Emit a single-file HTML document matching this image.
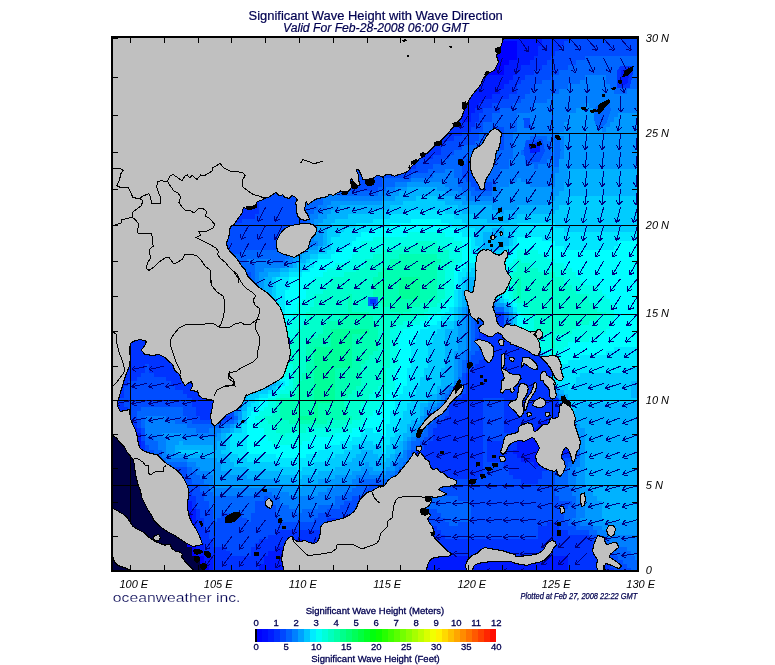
<!DOCTYPE html>
<html><head><meta charset="utf-8"><title>Significant Wave Height with Wave Direction</title>
<style>html,body{margin:0;padding:0;background:#fff}svg{display:block}text{font-family:"Liberation Sans",Arial,sans-serif}</style></head>
<body>
<svg width="775" height="665" viewBox="0 0 775 665">
<rect width="775" height="665" fill="#fff"/>
<rect x="111" y="36" width="528" height="536" fill="#c0c0c0"/>
<g shape-rendering="crispEdges"><path fill="#0033ff" d="M107 36h152v5h-152zM352 36h17v5h-17zM542 36h26v5h-26zM107 41h152v5h-152zM352 41h21v5h-21zM542 41h22v5h-22zM107 46h152v5h-152zM356 46h17v5h-17zM538 46h21v5h-21zM107 51h152v5h-152zM361 51h17v5h-17zM538 51h17v5h-17zM107 56h152v4h-152zM369 56h9v4h-9zM534 56h17v4h-17zM107 60h152v5h-152zM369 60h9v5h-9zM530 60h17v5h-17zM107 65h152v5h-152zM369 65h13v5h-13zM521 65h21v5h-21zM107 70h152v5h-152zM369 70h13v5h-13zM517 70h17v5h-17zM107 75h152v5h-152zM369 75h13v5h-13zM513 75h12v5h-12zM107 80h152v4h-152zM369 80h13v4h-13zM509 80h12v4h-12zM107 84h152v5h-152zM369 84h13v5h-13zM504 84h13v5h-13zM107 89h152v5h-152zM369 89h17v5h-17zM500 89h17v5h-17zM107 94h152v5h-152zM369 94h21v5h-21zM492 94h17v5h-17zM107 99h152v4h-152zM369 99h30v4h-30zM483 99h17v4h-17zM107 103h152v5h-152zM373 103h34v5h-34zM479 103h13v5h-13zM107 108h152v5h-152zM373 108h55v5h-55zM475 108h8v5h-8zM107 113h152v4h-152zM373 113h81v4h-81zM471 113h8v4h-8zM107 117h152v5h-152zM373 117h89v5h-89zM471 117h8v5h-8zM107 122h152v5h-152zM373 122h102v5h-102zM107 127h152v5h-152zM373 127h98v5h-98zM107 132h152v4h-152zM373 132h89v4h-89zM107 136h152v5h-152zM378 136h76v5h-76zM107 141h152v4h-152zM378 141h67v4h-67zM107 145h152v5h-152zM382 145h59v5h-59zM107 150h152v5h-152zM386 150h55v5h-55zM107 155h152v4h-152zM386 155h47v4h-47zM107 159h152v5h-152zM390 159h26v5h-26zM107 164h152v5h-152zM390 164h26v5h-26zM107 169h152v4h-152zM395 169h16v4h-16zM107 173h152v5h-152zM107 178h152v4h-152zM107 182h152v5h-152zM107 187h152v4h-152zM107 191h152v5h-152zM107 196h152v5h-152zM107 201h152v4h-152zM107 205h152v5h-152zM107 210h152v4h-152zM107 214h148v5h-148zM107 219h135v4h-135zM107 228h38v4h-38zM107 232h38v5h-38zM107 237h38v4h-38zM107 241h38v5h-38zM107 246h55v4h-55zM107 250h55v4h-55zM107 254h55v5h-55zM107 259h55v4h-55zM107 263h55v5h-55zM107 268h59v4h-59zM107 272h64v5h-64zM107 277h64v4h-64zM107 281h68v4h-68zM107 285h72v5h-72zM107 290h76v4h-76zM107 294h76v5h-76zM107 299h80v4h-80zM107 303h80v4h-80zM107 307h85v5h-85zM107 312h85v4h-85zM492 312h12v4h-12zM107 316h89v5h-89zM483 316h21v5h-21zM107 321h93v4h-93zM483 321h21v4h-21zM107 325h93v4h-93zM479 325h4v4h-4zM487 325h17v4h-17zM107 329h97v5h-97zM479 329h4v5h-4zM492 329h12v5h-12zM107 334h97v4h-97zM479 334h4v4h-4zM487 334h17v4h-17zM107 338h102v4h-102zM483 338h21v4h-21zM107 342h110v5h-110zM483 342h21v5h-21zM107 347h110v4h-110zM487 347h17v4h-17zM107 351h110v4h-110zM483 351h21v4h-21zM107 355h110v5h-110zM483 355h21v5h-21zM107 360h110v4h-110zM479 360h34v4h-34zM107 364h38v4h-38zM149 364h68v4h-68zM475 364h38v4h-38zM107 368h38v5h-38zM149 368h68v5h-68zM471 368h42v5h-42zM107 373h34v4h-34zM154 373h63v4h-63zM466 373h47v4h-47zM107 377h30v4h-30zM166 377h51v4h-51zM466 377h47v4h-47zM107 381h21v5h-21zM171 381h46v5h-46zM466 381h47v5h-47zM107 386h17v4h-17zM175 386h42v4h-42zM466 386h47v4h-47zM107 390h17v4h-17zM183 390h34v4h-34zM466 390h51v4h-51zM538 390h4v4h-4zM107 394h17v4h-17zM187 394h30v4h-30zM462 394h55v4h-55zM538 394h4v4h-4zM107 398h13v5h-13zM192 398h25v5h-25zM449 398h34v5h-34zM504 398h17v5h-17zM542 398h9v5h-9zM116 403h8v4h-8zM192 403h25v4h-25zM449 403h34v4h-34zM504 403h21v4h-21zM542 403h13v4h-13zM120 407h8v4h-8zM196 407h25v4h-25zM449 407h34v4h-34zM504 407h21v4h-21zM542 407h13v4h-13zM124 411h4v5h-4zM196 411h25v5h-25zM449 411h34v5h-34zM504 411h21v5h-21zM542 411h13v5h-13zM124 416h4v4h-4zM200 416h30v4h-30zM445 416h38v4h-38zM504 416h26v4h-26zM547 416h8v4h-8zM128 420h9v4h-9zM441 420h42v4h-42zM504 420h21v4h-21zM547 420h8v4h-8zM133 424h4v4h-4zM437 424h46v4h-46zM504 424h21v4h-21zM547 424h8v4h-8zM137 428h4v5h-4zM433 428h50v5h-50zM504 428h21v5h-21zM547 428h8v5h-8zM433 433h50v4h-50zM509 433h16v4h-16zM547 433h12v4h-12zM433 437h50v4h-50zM504 437h21v4h-21zM547 437h17v4h-17zM141 441h4v4h-4zM428 441h55v4h-55zM487 441h30v4h-30zM555 441h13v4h-13zM141 445h4v5h-4zM424 445h59v5h-59zM487 445h30v5h-30zM564 445h8v5h-8zM416 450h67v4h-67zM487 450h26v4h-26zM149 454h5v4h-5zM416 454h67v4h-67zM487 454h30v4h-30zM551 454h21v4h-21zM154 458h4v4h-4zM416 458h67v4h-67zM487 458h34v4h-34zM538 458h26v4h-26zM154 462h4v5h-4zM420 462h63v5h-63zM504 462h30v5h-30zM538 462h13v5h-13zM158 467h4v4h-4zM424 467h59v4h-59zM509 467h38v4h-38zM162 471h9v4h-9zM428 471h55v4h-55zM509 471h33v4h-33zM171 475h8v4h-8zM433 475h46v4h-46zM513 475h29v4h-29zM175 479h4v5h-4zM521 479h17v5h-17zM175 484h4v4h-4zM179 488h8v4h-8zM183 492h9v4h-9zM187 496h9v5h-9zM192 501h4v4h-4zM192 505h4v4h-4zM196 509h4v4h-4zM196 513h4v5h-4zM196 518h8v4h-8zM327 518h21v4h-21zM196 522h8v4h-8zM327 522h25v4h-25zM547 522h8v4h-8zM196 526h8v4h-8zM323 526h33v4h-33zM386 526h51v4h-51zM538 526h21v4h-21zM196 530h13v5h-13zM276 530h85v5h-85zM378 530h63v5h-63zM538 530h30v5h-30zM196 535h13v4h-13zM268 535h97v4h-97zM373 535h72v4h-72zM538 535h51v4h-51zM200 539h13v4h-13zM259 539h38v4h-38zM302 539h63v4h-63zM369 539h224v4h-224zM204 543h9v4h-9zM255 543h30v4h-30zM302 543h291v4h-291zM204 547h22v4h-22zM251 547h25v4h-25zM306 547h291v4h-291zM209 551h21v5h-21zM251 551h17v5h-17zM306 551h296v5h-296zM213 556h51v4h-51zM306 556h76v4h-76zM483 556h55v4h-55zM568 556h34v4h-34zM213 560h51v4h-51zM306 560h67v4h-67zM568 560h38v4h-38zM213 564h46v4h-46zM306 564h59v4h-59zM568 564h42v4h-42zM213 568h46v5h-46zM306 568h55v5h-55zM568 568h46v5h-46z"/><path fill="#004cff" d="M259 36h43v5h-43zM323 36h29v5h-29zM568 36h76v5h-76zM259 41h43v5h-43zM323 41h29v5h-29zM564 41h80v5h-80zM259 46h43v5h-43zM323 46h33v5h-33zM559 46h85v5h-85zM259 51h43v5h-43zM323 51h38v5h-38zM555 51h89v5h-89zM259 56h43v4h-43zM323 56h46v4h-46zM551 56h34v4h-34zM259 60h43v5h-43zM323 60h46v5h-46zM547 60h29v5h-29zM259 65h43v5h-43zM323 65h46v5h-46zM542 65h26v5h-26zM259 70h43v5h-43zM323 70h46v5h-46zM534 70h25v5h-25zM259 75h43v5h-43zM323 75h46v5h-46zM525 75h26v5h-26zM259 80h43v4h-43zM323 80h46v4h-46zM521 80h21v4h-21zM259 84h43v5h-43zM323 84h46v5h-46zM517 84h17v5h-17zM259 89h43v5h-43zM323 89h46v5h-46zM517 89h13v5h-13zM259 94h43v5h-43zM323 94h46v5h-46zM509 94h16v5h-16zM259 99h43v4h-43zM323 99h46v4h-46zM500 99h21v4h-21zM259 103h43v5h-43zM323 103h50v5h-50zM492 103h21v5h-21zM259 108h43v5h-43zM323 108h50v5h-50zM483 108h17v5h-17zM259 113h43v4h-43zM323 113h50v4h-50zM479 113h13v4h-13zM259 117h43v5h-43zM323 117h50v5h-50zM479 117h13v5h-13zM259 122h43v5h-43zM323 122h50v5h-50zM475 122h8v5h-8zM259 127h43v5h-43zM323 127h50v5h-50zM471 127h12v5h-12zM496 127h8v5h-8zM259 132h43v4h-43zM323 132h50v4h-50zM462 132h17v4h-17zM496 132h8v4h-8zM259 136h43v5h-43zM323 136h55v5h-55zM454 136h25v5h-25zM496 136h8v5h-8zM259 141h43v4h-43zM327 141h51v4h-51zM445 141h30v4h-30zM496 141h8v4h-8zM259 145h43v5h-43zM327 145h55v5h-55zM441 145h21v5h-21zM500 145h4v5h-4zM534 145h8v5h-8zM259 150h43v5h-43zM327 150h59v5h-59zM441 150h13v5h-13zM530 150h12v5h-12zM259 155h43v4h-43zM327 155h59v4h-59zM433 155h16v4h-16zM534 155h4v4h-4zM259 159h47v5h-47zM331 159h59v5h-59zM416 159h25v5h-25zM466 159h13v5h-13zM259 164h47v5h-47zM331 164h59v5h-59zM416 164h17v5h-17zM462 164h25v5h-25zM259 169h47v4h-47zM335 169h60v4h-60zM411 169h17v4h-17zM462 169h25v4h-25zM259 173h47v5h-47zM340 173h71v5h-71zM462 173h25v5h-25zM259 178h47v4h-47zM340 178h42v4h-42zM466 178h21v4h-21zM259 182h47v5h-47zM340 182h42v5h-42zM471 182h21v5h-21zM259 187h47v4h-47zM344 187h34v4h-34zM475 187h17v4h-17zM259 191h47v5h-47zM259 196h47v5h-47zM259 201h47v4h-47zM259 205h47v5h-47zM259 210h47v4h-47zM255 214h51v5h-51zM242 219h64v4h-64zM107 223h199v5h-199zM145 228h157v4h-157zM145 232h152v5h-152zM145 237h144v4h-144zM145 241h144v5h-144zM162 246h123v4h-123zM162 250h80v4h-80zM162 254h72v5h-72zM162 259h68v4h-68zM162 263h72v5h-72zM166 268h76v4h-76zM171 272h80v5h-80zM171 277h80v4h-80zM175 281h76v4h-76zM179 285h63v5h-63zM183 290h51v4h-51zM183 294h43v5h-43zM187 299h30v4h-30zM187 303h26v4h-26zM192 307h17v5h-17zM192 312h17v4h-17zM479 312h13v4h-13zM196 316h13v5h-13zM479 316h4v5h-4zM200 321h9v4h-9zM475 321h8v4h-8zM200 325h13v4h-13zM475 325h4v4h-4zM204 329h9v5h-9zM475 329h4v5h-4zM204 334h13v4h-13zM475 334h4v4h-4zM209 338h8v4h-8zM475 338h8v4h-8zM217 342h4v5h-4zM479 342h4v5h-4zM217 347h4v4h-4zM479 347h8v4h-8zM504 347h5v4h-5zM217 351h4v4h-4zM475 351h8v4h-8zM504 351h5v4h-5zM217 355h4v5h-4zM471 355h12v5h-12zM504 355h9v5h-9zM217 360h4v4h-4zM466 360h13v4h-13zM513 360h25v4h-25zM145 364h4v4h-4zM217 364h4v4h-4zM466 364h9v4h-9zM538 364h4v4h-4zM145 368h4v5h-4zM217 368h4v5h-4zM466 368h5v5h-5zM538 368h4v5h-4zM141 373h13v4h-13zM217 373h4v4h-4zM462 373h4v4h-4zM538 373h4v4h-4zM137 377h29v4h-29zM217 377h4v4h-4zM462 377h4v4h-4zM538 377h4v4h-4zM128 381h43v5h-43zM217 381h4v5h-4zM462 381h4v5h-4zM538 381h4v5h-4zM124 386h51v4h-51zM217 386h4v4h-4zM462 386h4v4h-4zM538 386h4v4h-4zM124 390h59v4h-59zM217 390h4v4h-4zM458 390h8v4h-8zM542 390h5v4h-5zM124 394h63v4h-63zM217 394h4v4h-4zM449 394h13v4h-13zM542 394h9v4h-9zM120 398h72v5h-72zM217 398h4v5h-4zM445 398h4v5h-4zM483 398h21v5h-21zM551 398h4v5h-4zM124 403h68v4h-68zM217 403h9v4h-9zM445 403h4v4h-4zM483 403h21v4h-21zM128 407h13v4h-13zM183 407h13v4h-13zM221 407h9v4h-9zM445 407h4v4h-4zM483 407h21v4h-21zM128 411h9v5h-9zM183 411h13v5h-13zM221 411h13v5h-13zM441 411h8v5h-8zM483 411h21v5h-21zM555 411h4v5h-4zM128 416h9v4h-9zM187 416h13v4h-13zM230 416h4v4h-4zM433 416h12v4h-12zM483 416h21v4h-21zM555 416h4v4h-4zM137 420h4v4h-4zM192 420h34v4h-34zM433 420h8v4h-8zM483 420h21v4h-21zM555 420h4v4h-4zM137 424h4v4h-4zM428 424h9v4h-9zM483 424h21v4h-21zM555 424h4v4h-4zM141 428h4v5h-4zM428 428h5v5h-5zM483 428h21v5h-21zM555 428h9v5h-9zM141 433h4v4h-4zM428 433h5v4h-5zM483 433h26v4h-26zM559 433h9v4h-9zM141 437h4v4h-4zM424 437h9v4h-9zM483 437h21v4h-21zM564 437h8v4h-8zM420 441h8v4h-8zM483 441h4v4h-4zM568 441h4v4h-4zM145 445h4v5h-4zM416 445h8v5h-8zM483 445h4v5h-4zM572 445h4v5h-4zM145 450h9v4h-9zM411 450h5v4h-5zM483 450h4v4h-4zM572 450h4v4h-4zM154 454h4v4h-4zM411 454h5v4h-5zM483 454h4v4h-4zM572 454h4v4h-4zM158 458h4v4h-4zM411 458h5v4h-5zM483 458h4v4h-4zM564 458h8v4h-8zM158 462h4v5h-4zM411 462h9v5h-9zM483 462h21v5h-21zM551 462h17v5h-17zM171 467h16v4h-16zM407 467h17v4h-17zM483 467h26v4h-26zM547 467h8v4h-8zM171 471h16v4h-16zM407 471h21v4h-21zM483 471h26v4h-26zM542 471h13v4h-13zM179 475h8v4h-8zM403 475h30v4h-30zM479 475h34v4h-34zM542 475h13v4h-13zM179 479h13v5h-13zM403 479h118v5h-118zM538 479h17v5h-17zM179 484h21v4h-21zM369 484h186v4h-186zM187 488h13v4h-13zM365 488h190v4h-190zM192 492h12v4h-12zM365 492h46v4h-46zM428 492h127v4h-127zM196 496h8v5h-8zM264 496h4v5h-4zM352 496h55v5h-55zM458 496h101v5h-101zM196 501h13v4h-13zM255 501h17v4h-17zM344 501h59v4h-59zM471 501h101v4h-101zM196 505h13v4h-13zM255 505h21v4h-21zM340 505h71v4h-71zM471 505h97v4h-97zM200 509h13v4h-13zM255 509h21v4h-21zM327 509h110v4h-110zM471 509h93v4h-93zM200 513h13v5h-13zM221 513h21v5h-21zM251 513h25v5h-25zM318 513h123v5h-123zM471 513h93v5h-93zM204 518h9v4h-9zM217 518h30v4h-30zM251 518h29v4h-29zM314 518h13v4h-13zM348 518h97v4h-97zM471 518h93v4h-93zM204 522h123v4h-123zM352 522h97v4h-97zM458 522h89v4h-89zM555 522h13v4h-13zM204 526h119v4h-119zM356 526h30v4h-30zM437 526h101v4h-101zM559 526h17v4h-17zM209 530h67v5h-67zM361 530h17v5h-17zM441 530h97v5h-97zM568 530h21v5h-21zM209 535h59v4h-59zM365 535h8v4h-8zM445 535h93v4h-93zM589 535h8v4h-8zM213 539h46v4h-46zM365 539h4v4h-4zM593 539h4v4h-4zM213 543h42v4h-42zM593 543h9v4h-9zM226 547h25v4h-25zM597 547h9v4h-9zM230 551h21v5h-21zM602 551h12v5h-12zM602 556h16v4h-16zM606 560h17v4h-17zM610 564h17v4h-17zM614 568h17v5h-17z"/><path fill="#0066ff" d="M302 36h21v5h-21zM302 41h21v5h-21zM302 46h21v5h-21zM302 51h21v5h-21zM302 56h21v4h-21zM585 56h59v4h-59zM302 60h21v5h-21zM576 60h68v5h-68zM302 65h21v5h-21zM568 65h76v5h-76zM302 70h21v5h-21zM559 70h85v5h-85zM302 75h21v5h-21zM551 75h34v5h-34zM606 75h38v5h-38zM302 80h21v4h-21zM542 80h38v4h-38zM606 80h38v4h-38zM302 84h21v5h-21zM534 84h34v5h-34zM610 84h34v5h-34zM302 89h21v5h-21zM530 89h29v5h-29zM614 89h13v5h-13zM302 94h21v5h-21zM525 94h26v5h-26zM302 99h21v4h-21zM521 99h26v4h-26zM302 103h21v5h-21zM513 103h21v5h-21zM302 108h21v5h-21zM500 108h30v5h-30zM302 113h21v4h-21zM492 113h25v4h-25zM302 117h21v5h-21zM492 117h25v5h-25zM302 122h21v5h-21zM483 122h34v5h-34zM302 127h21v5h-21zM483 127h13v5h-13zM504 127h13v5h-13zM302 132h21v4h-21zM479 132h17v4h-17zM504 132h9v4h-9zM302 136h21v5h-21zM479 136h17v5h-17zM504 136h9v5h-9zM530 136h17v5h-17zM302 141h25v4h-25zM475 141h21v4h-21zM504 141h9v4h-9zM525 141h26v4h-26zM302 145h25v5h-25zM462 145h38v5h-38zM504 145h9v5h-9zM525 145h9v5h-9zM542 145h9v5h-9zM302 150h25v5h-25zM454 150h59v5h-59zM521 150h9v5h-9zM542 150h9v5h-9zM302 155h25v4h-25zM449 155h64v4h-64zM525 155h9v4h-9zM538 155h13v4h-13zM306 159h25v5h-25zM441 159h25v5h-25zM479 159h30v5h-30zM525 159h22v5h-22zM306 164h25v5h-25zM433 164h29v5h-29zM487 164h22v5h-22zM534 164h4v5h-4zM306 169h29v4h-29zM428 169h17v4h-17zM454 169h8v4h-8zM487 169h13v4h-13zM306 173h34v5h-34zM411 173h22v5h-22zM454 173h8v5h-8zM487 173h13v5h-13zM306 178h34v4h-34zM382 178h29v4h-29zM458 178h8v4h-8zM487 178h9v4h-9zM306 182h34v5h-34zM382 182h13v5h-13zM458 182h13v5h-13zM492 182h4v5h-4zM306 187h25v4h-25zM335 187h9v4h-9zM378 187h8v4h-8zM462 187h13v4h-13zM492 187h4v4h-4zM306 191h21v5h-21zM340 191h38v5h-38zM471 191h21v5h-21zM306 196h17v5h-17zM306 201h17v4h-17zM306 205h12v5h-12zM306 210h8v4h-8zM306 214h4v5h-4zM306 219h4v4h-4zM306 223h4v5h-4zM302 228h4v4h-4zM297 232h9v5h-9zM289 237h13v4h-13zM289 241h8v5h-8zM285 246h8v4h-8zM242 250h47v4h-47zM234 254h55v5h-55zM230 259h17v4h-17zM272 259h13v4h-13zM234 263h21v5h-21zM242 268h13v4h-13zM251 272h4v5h-4zM251 277h4v4h-4zM251 281h4v4h-4zM242 285h9v5h-9zM234 290h17v4h-17zM226 294h16v5h-16zM217 299h21v4h-21zM213 303h21v4h-21zM209 307h17v5h-17zM479 307h25v5h-25zM209 312h12v4h-12zM471 312h8v4h-8zM504 312h5v4h-5zM209 316h12v5h-12zM471 316h8v5h-8zM504 316h5v5h-5zM209 321h12v4h-12zM471 321h4v4h-4zM504 321h5v4h-5zM213 325h8v4h-8zM471 325h4v4h-4zM504 325h5v4h-5zM213 329h8v5h-8zM471 329h4v5h-4zM504 329h5v5h-5zM217 334h4v4h-4zM471 334h4v4h-4zM504 334h5v4h-5zM217 338h4v4h-4zM471 338h4v4h-4zM504 338h5v4h-5zM471 342h8v5h-8zM504 342h5v5h-5zM221 347h5v4h-5zM471 347h8v4h-8zM221 351h5v4h-5zM466 351h9v4h-9zM509 351h4v4h-4zM221 355h5v5h-5zM466 355h5v5h-5zM513 355h8v5h-8zM221 360h5v4h-5zM462 360h4v4h-4zM221 364h5v4h-5zM462 364h4v4h-4zM221 368h5v5h-5zM462 368h4v5h-4zM221 373h5v4h-5zM221 377h5v4h-5zM458 377h4v4h-4zM221 381h5v5h-5zM458 381h4v5h-4zM221 386h5v4h-5zM458 386h4v4h-4zM542 386h5v4h-5zM221 390h5v4h-5zM449 390h9v4h-9zM221 394h5v4h-5zM445 394h4v4h-4zM551 394h4v4h-4zM221 398h9v5h-9zM555 398h4v5h-4zM226 403h4v4h-4zM441 403h4v4h-4zM555 403h4v4h-4zM141 407h42v4h-42zM230 407h4v4h-4zM437 407h8v4h-8zM555 407h4v4h-4zM137 411h46v5h-46zM433 411h8v5h-8zM137 416h8v4h-8zM166 416h21v4h-21zM234 416h4v4h-4zM428 416h5v4h-5zM141 420h4v4h-4zM175 420h17v4h-17zM226 420h8v4h-8zM428 420h5v4h-5zM559 420h5v4h-5zM141 424h4v4h-4zM187 424h34v4h-34zM424 424h4v4h-4zM559 424h5v4h-5zM196 428h13v5h-13zM424 428h4v5h-4zM564 428h4v5h-4zM420 433h8v4h-8zM568 433h4v4h-4zM145 437h9v4h-9zM416 437h8v4h-8zM572 437h4v4h-4zM145 441h13v4h-13zM411 441h9v4h-9zM572 441h4v4h-4zM149 445h9v5h-9zM411 445h5v5h-5zM576 445h4v5h-4zM154 450h8v4h-8zM407 450h4v4h-4zM576 450h4v4h-4zM158 454h4v4h-4zM407 454h4v4h-4zM576 454h4v4h-4zM162 458h4v4h-4zM407 458h4v4h-4zM572 458h4v4h-4zM162 462h25v5h-25zM403 462h8v5h-8zM568 462h4v5h-4zM162 467h9v4h-9zM187 467h5v4h-5zM399 467h8v4h-8zM555 467h13v4h-13zM187 471h9v4h-9zM395 471h12v4h-12zM555 471h13v4h-13zM187 475h13v4h-13zM390 475h13v4h-13zM555 475h13v4h-13zM192 479h12v5h-12zM361 479h42v5h-42zM555 479h13v5h-13zM200 484h9v4h-9zM356 484h13v4h-13zM555 484h13v4h-13zM200 488h9v4h-9zM352 488h13v4h-13zM555 488h17v4h-17zM204 492h9v4h-9zM255 492h17v4h-17zM344 492h21v4h-21zM411 492h17v4h-17zM555 492h17v4h-17zM204 496h60v5h-60zM268 496h12v5h-12zM335 496h17v5h-17zM407 496h51v5h-51zM559 496h17v5h-17zM209 501h46v4h-46zM272 501h8v4h-8zM335 501h9v4h-9zM403 501h68v4h-68zM572 501h4v4h-4zM209 505h46v4h-46zM276 505h13v4h-13zM318 505h22v4h-22zM411 505h60v4h-60zM568 505h8v4h-8zM213 509h42v4h-42zM276 509h21v4h-21zM302 509h25v4h-25zM437 509h34v4h-34zM564 509h12v4h-12zM213 513h8v5h-8zM242 513h9v5h-9zM276 513h42v5h-42zM441 513h30v5h-30zM564 513h12v5h-12zM213 518h4v4h-4zM247 518h4v4h-4zM280 518h34v4h-34zM445 518h26v4h-26zM564 518h8v4h-8zM449 522h9v4h-9zM568 522h12v4h-12zM576 526h17v4h-17zM589 530h8v5h-8zM597 535h5v4h-5zM597 539h13v4h-13zM602 543h16v4h-16zM606 547h21v4h-21zM614 551h17v5h-17zM618 556h17v4h-17zM623 560h21v4h-21zM627 564h17v4h-17zM631 568h13v5h-13z"/><path fill="#001aff" d="M369 36h173v5h-173zM373 41h43v5h-43zM517 41h25v5h-25zM373 46h43v5h-43zM517 46h21v5h-21zM378 51h38v5h-38zM517 51h21v5h-21zM378 56h38v4h-38zM517 56h17v4h-17zM378 60h38v5h-38zM509 60h21v5h-21zM382 65h34v5h-34zM504 65h17v5h-17zM382 70h34v5h-34zM504 70h13v5h-13zM382 75h131v5h-131zM382 80h127v4h-127zM382 84h122v5h-122zM386 89h114v5h-114zM390 94h102v5h-102zM399 99h84v4h-84zM407 103h72v5h-72zM428 108h47v5h-47zM454 113h17v4h-17zM462 117h9v5h-9zM483 325h4v4h-4zM483 329h9v5h-9zM483 334h4v4h-4zM513 364h25v4h-25zM513 368h25v5h-25zM513 373h25v4h-25zM513 377h25v4h-25zM513 381h25v5h-25zM513 386h25v4h-25zM517 390h21v4h-21zM517 394h21v4h-21zM521 398h21v5h-21zM107 403h9v4h-9zM525 403h17v4h-17zM116 407h4v4h-4zM525 407h17v4h-17zM120 411h4v5h-4zM525 411h17v5h-17zM120 416h4v4h-4zM530 416h17v4h-17zM124 420h4v4h-4zM525 420h22v4h-22zM128 424h5v4h-5zM525 424h22v4h-22zM133 428h4v5h-4zM525 428h22v5h-22zM137 433h4v4h-4zM525 433h22v4h-22zM137 437h4v4h-4zM525 437h22v4h-22zM137 441h4v4h-4zM517 441h38v4h-38zM137 445h4v5h-4zM517 445h47v5h-47zM141 450h4v4h-4zM513 450h59v4h-59zM141 454h8v4h-8zM517 454h34v4h-34zM149 458h5v4h-5zM521 458h17v4h-17zM534 462h4v5h-4zM154 467h4v4h-4zM158 471h4v4h-4zM162 475h9v4h-9zM171 479h4v5h-4zM171 484h4v4h-4zM175 488h4v4h-4zM179 492h4v4h-4zM183 496h4v5h-4zM187 501h5v4h-5zM187 505h5v4h-5zM187 509h9v4h-9zM192 513h4v5h-4zM192 518h4v4h-4zM192 522h4v4h-4zM192 526h4v4h-4zM192 530h4v5h-4zM192 535h4v4h-4zM196 539h4v4h-4zM297 539h5v4h-5zM196 543h8v4h-8zM285 543h17v4h-17zM196 547h8v4h-8zM276 547h30v4h-30zM196 551h13v5h-13zM268 551h38v5h-38zM204 556h9v4h-9zM264 556h42v4h-42zM382 556h101v4h-101zM538 556h30v4h-30zM204 560h9v4h-9zM264 560h42v4h-42zM373 560h195v4h-195zM209 564h4v4h-4zM259 564h47v4h-47zM365 564h203v4h-203zM209 568h4v5h-4zM259 568h47v5h-47zM361 568h207v5h-207z"/><path fill="#0000ff" d="M416 41h101v5h-101zM416 46h101v5h-101zM416 51h101v5h-101zM416 56h101v4h-101zM416 60h93v5h-93zM416 65h88v5h-88zM416 70h88v5h-88zM107 407h9v4h-9zM116 411h4v5h-4zM120 420h4v4h-4zM124 424h4v4h-4zM133 433h4v4h-4zM133 437h4v4h-4zM137 450h4v4h-4zM137 454h4v4h-4zM141 458h8v4h-8zM149 462h5v5h-5zM154 471h4v4h-4zM158 475h4v4h-4zM166 479h5v5h-5zM171 488h4v4h-4zM171 492h8v4h-8zM175 496h8v5h-8zM179 501h8v4h-8zM183 505h4v4h-4zM183 509h4v4h-4zM187 513h5v5h-5zM187 518h5v4h-5zM187 522h5v4h-5zM187 526h5v4h-5zM187 530h5v5h-5zM187 535h5v4h-5zM187 539h9v4h-9zM187 543h9v4h-9zM192 547h4v4h-4zM192 551h4v5h-4zM196 556h8v4h-8zM200 560h4v4h-4zM204 564h5v4h-5zM204 568h5v5h-5z"/><path fill="#0080ff" d="M585 75h21v5h-21zM580 80h26v4h-26zM568 84h42v5h-42zM559 89h55v5h-55zM627 89h17v5h-17zM551 94h93v5h-93zM547 99h97v4h-97zM534 103h51v5h-51zM589 103h55v5h-55zM530 108h46v5h-46zM593 108h51v5h-51zM517 113h51v4h-51zM597 113h21v4h-21zM517 117h51v5h-51zM597 117h17v5h-17zM517 122h47v5h-47zM602 122h8v5h-8zM517 127h47v5h-47zM602 127h4v5h-4zM513 132h46v4h-46zM513 136h17v5h-17zM547 136h17v5h-17zM513 141h12v4h-12zM551 141h13v4h-13zM513 145h12v5h-12zM551 145h13v5h-13zM513 150h8v5h-8zM551 150h13v5h-13zM513 155h12v4h-12zM551 155h13v4h-13zM509 159h16v5h-16zM547 159h12v5h-12zM509 164h25v5h-25zM538 164h21v5h-21zM445 169h9v4h-9zM500 169h59v4h-59zM433 173h21v5h-21zM500 173h55v5h-55zM411 178h47v4h-47zM496 178h21v4h-21zM521 178h34v4h-34zM395 182h12v5h-12zM445 182h13v5h-13zM496 182h13v5h-13zM530 182h25v5h-25zM331 187h4v4h-4zM386 187h9v4h-9zM449 187h13v4h-13zM496 187h4v4h-4zM327 191h13v5h-13zM378 191h12v5h-12zM458 191h13v5h-13zM492 191h8v5h-8zM323 196h59v5h-59zM466 196h30v5h-30zM323 201h8v4h-8zM318 205h9v5h-9zM314 210h9v4h-9zM310 214h8v5h-8zM310 219h4v4h-4zM310 223h4v5h-4zM306 228h8v4h-8zM306 232h8v5h-8zM302 237h12v4h-12zM297 241h21v5h-21zM293 246h9v4h-9zM289 250h8v4h-8zM289 254h4v5h-4zM247 259h25v4h-25zM285 259h8v4h-8zM255 263h30v5h-30zM255 268h9v4h-9zM255 272h4v5h-4zM255 277h4v4h-4zM255 281h4v4h-4zM251 285h8v5h-8zM251 290h4v4h-4zM242 294h13v5h-13zM238 299h13v4h-13zM234 303h13v4h-13zM471 303h25v4h-25zM226 307h16v5h-16zM466 307h13v5h-13zM221 312h17v4h-17zM466 312h5v4h-5zM221 316h13v5h-13zM466 316h5v5h-5zM221 321h9v4h-9zM466 321h5v4h-5zM221 325h5v4h-5zM466 325h5v4h-5zM221 329h5v5h-5zM466 329h5v5h-5zM221 334h5v4h-5zM466 334h5v4h-5zM221 338h5v4h-5zM466 338h5v4h-5zM509 338h4v4h-4zM221 342h5v5h-5zM466 342h5v5h-5zM509 342h4v5h-4zM226 347h4v4h-4zM466 347h5v4h-5zM509 347h4v4h-4zM226 351h4v4h-4zM462 351h4v4h-4zM513 351h4v4h-4zM226 355h4v5h-4zM458 355h8v5h-8zM521 355h13v5h-13zM226 360h4v4h-4zM458 360h4v4h-4zM538 360h4v4h-4zM226 364h4v4h-4zM264 364h4v4h-4zM458 364h4v4h-4zM542 364h5v4h-5zM226 368h4v5h-4zM264 368h4v5h-4zM458 368h4v5h-4zM542 368h5v5h-5zM226 373h4v4h-4zM264 373h4v4h-4zM458 373h4v4h-4zM542 373h5v4h-5zM226 377h4v4h-4zM264 377h4v4h-4zM542 377h5v4h-5zM226 381h4v5h-4zM264 381h4v5h-4zM454 381h4v5h-4zM542 381h5v5h-5zM226 386h4v4h-4zM449 386h9v4h-9zM226 390h4v4h-4zM445 390h4v4h-4zM547 390h4v4h-4zM226 394h8v4h-8zM441 394h4v4h-4zM555 394h4v4h-4zM230 398h4v5h-4zM441 398h4v5h-4zM559 398h5v5h-5zM230 403h8v4h-8zM437 403h4v4h-4zM559 403h5v4h-5zM234 407h4v4h-4zM433 407h4v4h-4zM559 407h5v4h-5zM234 411h4v5h-4zM428 411h5v5h-5zM559 411h5v5h-5zM145 416h21v4h-21zM424 416h4v4h-4zM559 416h5v4h-5zM145 420h30v4h-30zM234 420h4v4h-4zM424 420h4v4h-4zM564 420h4v4h-4zM145 424h42v4h-42zM221 424h9v4h-9zM420 424h4v4h-4zM564 424h4v4h-4zM145 428h51v5h-51zM209 428h12v5h-12zM420 428h4v5h-4zM568 428h8v5h-8zM145 433h17v4h-17zM183 433h34v4h-34zM416 433h4v4h-4zM572 433h4v4h-4zM154 437h12v4h-12zM411 437h5v4h-5zM576 437h4v4h-4zM158 441h8v4h-8zM407 441h4v4h-4zM576 441h4v4h-4zM158 445h8v5h-8zM407 445h4v5h-4zM162 450h4v4h-4zM403 450h4v4h-4zM162 454h9v4h-9zM403 454h4v4h-4zM166 458h21v4h-21zM399 458h8v4h-8zM576 458h4v4h-4zM187 462h9v5h-9zM395 462h8v5h-8zM572 462h8v5h-8zM192 467h8v4h-8zM395 467h4v4h-4zM568 467h8v4h-8zM196 471h13v4h-13zM365 471h4v4h-4zM386 471h9v4h-9zM568 471h8v4h-8zM200 475h13v4h-13zM356 475h34v4h-34zM568 475h8v4h-8zM204 479h9v5h-9zM352 479h9v5h-9zM568 479h8v5h-8zM209 484h4v4h-4zM335 484h21v4h-21zM568 484h8v4h-8zM209 488h71v4h-71zM327 488h25v4h-25zM572 488h8v4h-8zM213 492h42v4h-42zM272 492h17v4h-17zM318 492h26v4h-26zM572 492h8v4h-8zM280 496h55v5h-55zM576 496h4v5h-4zM280 501h55v4h-55zM576 501h9v4h-9zM289 505h29v4h-29zM576 505h9v4h-9zM297 509h5v4h-5zM576 509h9v4h-9zM576 513h9v5h-9zM572 518h8v4h-8zM580 522h13v4h-13zM593 526h9v4h-9zM597 530h17v5h-17zM602 535h42v4h-42zM610 539h34v4h-34zM618 543h26v4h-26zM627 547h17v4h-17zM631 551h13v5h-13zM635 556h9v4h-9z"/><path fill="#0099ff" d="M585 103h4v5h-4zM576 108h17v5h-17zM568 113h29v4h-29zM618 113h26v4h-26zM568 117h29v5h-29zM614 117h30v5h-30zM564 122h38v5h-38zM610 122h34v5h-34zM564 127h38v5h-38zM606 127h38v5h-38zM559 132h26v4h-26zM589 132h55v4h-55zM564 136h80v5h-80zM564 141h80v4h-80zM564 145h80v5h-80zM564 150h80v5h-80zM564 155h80v4h-80zM559 159h85v5h-85zM559 164h85v5h-85zM559 169h9v4h-9zM555 173h13v5h-13zM517 178h4v4h-4zM555 178h13v4h-13zM407 182h38v5h-38zM509 182h21v5h-21zM555 182h9v5h-9zM395 187h12v4h-12zM437 187h12v4h-12zM500 187h64v4h-64zM390 191h9v5h-9zM445 191h13v5h-13zM500 191h59v5h-59zM382 196h13v5h-13zM454 196h12v5h-12zM496 196h59v5h-59zM331 201h51v4h-51zM462 201h85v4h-85zM327 205h13v5h-13zM492 205h25v5h-25zM323 210h8v4h-8zM500 210h4v4h-4zM318 214h9v5h-9zM314 219h9v4h-9zM314 223h4v5h-4zM314 228h4v4h-4zM314 232h9v5h-9zM314 237h9v4h-9zM318 241h5v5h-5zM302 246h16v4h-16zM297 250h9v4h-9zM293 254h9v5h-9zM293 259h4v4h-4zM285 263h8v5h-8zM264 268h16v4h-16zM259 272h9v5h-9zM259 277h5v4h-5zM259 281h5v4h-5zM259 285h5v5h-5zM255 290h9v4h-9zM466 290h5v4h-5zM255 294h9v5h-9zM466 294h9v5h-9zM251 299h8v4h-8zM466 299h21v4h-21zM247 303h8v4h-8zM466 303h5v4h-5zM496 303h8v4h-8zM242 307h13v5h-13zM462 307h4v5h-4zM504 307h5v5h-5zM238 312h13v4h-13zM462 312h4v4h-4zM509 312h4v4h-4zM234 316h13v5h-13zM462 316h4v5h-4zM509 316h4v5h-4zM230 321h12v4h-12zM462 321h4v4h-4zM509 321h4v4h-4zM226 325h12v4h-12zM458 325h8v4h-8zM509 325h4v4h-4zM226 329h8v5h-8zM458 329h8v5h-8zM509 329h4v5h-4zM226 334h4v4h-4zM458 334h8v4h-8zM509 334h4v4h-4zM226 338h4v4h-4zM458 338h8v4h-8zM226 342h4v5h-4zM458 342h8v5h-8zM458 347h8v4h-8zM513 347h4v4h-4zM230 351h4v4h-4zM454 351h8v4h-8zM517 351h4v4h-4zM230 355h8v5h-8zM454 355h4v5h-4zM534 355h4v5h-4zM230 360h38v4h-38zM454 360h4v4h-4zM230 364h34v4h-34zM454 364h4v4h-4zM230 368h34v5h-34zM454 368h4v5h-4zM230 373h34v4h-34zM454 373h4v4h-4zM230 377h34v4h-34zM268 377h4v4h-4zM454 377h4v4h-4zM230 381h17v5h-17zM251 381h13v5h-13zM268 381h4v5h-4zM230 386h12v4h-12zM445 386h4v4h-4zM547 386h4v4h-4zM230 390h12v4h-12zM441 390h4v4h-4zM551 390h8v4h-8zM234 394h8v4h-8zM437 394h4v4h-4zM559 394h5v4h-5zM234 398h4v5h-4zM437 398h4v5h-4zM238 403h4v4h-4zM428 403h9v4h-9zM564 403h4v4h-4zM238 407h4v4h-4zM424 407h9v4h-9zM564 407h4v4h-4zM238 411h4v5h-4zM424 411h4v5h-4zM564 411h4v5h-4zM238 416h4v4h-4zM420 416h4v4h-4zM564 416h4v4h-4zM420 420h4v4h-4zM230 424h4v4h-4zM416 424h4v4h-4zM568 424h12v4h-12zM221 428h9v5h-9zM411 428h9v5h-9zM576 428h9v5h-9zM162 433h21v4h-21zM217 433h4v4h-4zM411 433h5v4h-5zM576 433h9v4h-9zM166 437h55v4h-55zM407 437h4v4h-4zM580 437h5v4h-5zM166 441h13v4h-13zM183 441h34v4h-34zM403 441h4v4h-4zM580 441h5v4h-5zM166 445h9v5h-9zM213 445h4v5h-4zM403 445h4v5h-4zM580 445h5v5h-5zM166 450h9v4h-9zM580 450h5v4h-5zM171 454h16v4h-16zM395 454h8v4h-8zM580 454h5v4h-5zM187 458h30v4h-30zM395 458h4v4h-4zM580 458h5v4h-5zM196 462h25v5h-25zM365 462h4v5h-4zM390 462h5v5h-5zM580 462h5v5h-5zM200 467h21v4h-21zM361 467h12v4h-12zM386 467h9v4h-9zM576 467h9v4h-9zM209 471h21v4h-21zM352 471h13v4h-13zM369 471h17v4h-17zM576 471h9v4h-9zM213 475h34v4h-34zM335 475h21v4h-21zM576 475h9v4h-9zM213 479h67v5h-67zM318 479h34v5h-34zM576 479h9v5h-9zM213 484h84v4h-84zM302 484h33v4h-33zM576 484h9v4h-9zM280 488h47v4h-47zM580 488h9v4h-9zM289 492h29v4h-29zM580 492h13v4h-13zM580 496h17v5h-17zM585 501h17v4h-17zM585 505h17v4h-17zM585 509h17v4h-17zM585 513h17v5h-17zM580 518h22v4h-22zM593 522h51v4h-51zM602 526h42v4h-42zM614 530h30v5h-30z"/><path fill="#00b2ff" d="M585 132h4v4h-4zM568 169h76v4h-76zM568 173h76v5h-76zM568 178h76v4h-76zM564 182h80v5h-80zM407 187h30v4h-30zM564 187h80v4h-80zM399 191h46v5h-46zM559 191h85v5h-85zM395 196h21v5h-21zM437 196h17v5h-17zM555 196h13v5h-13zM382 201h21v4h-21zM445 201h17v4h-17zM547 201h21v4h-21zM340 205h50v5h-50zM458 205h34v5h-34zM517 205h42v5h-42zM331 210h42v4h-42zM462 210h38v4h-38zM504 210h51v4h-51zM327 214h21v5h-21zM475 214h42v5h-42zM323 219h12v4h-12zM487 219h22v4h-22zM318 223h13v5h-13zM318 228h9v4h-9zM492 228h12v4h-12zM323 232h4v5h-4zM483 232h21v5h-21zM323 237h4v4h-4zM483 237h26v4h-26zM323 241h4v5h-4zM483 241h26v5h-26zM318 246h5v4h-5zM483 246h21v4h-21zM306 250h12v4h-12zM302 254h8v5h-8zM297 259h9v4h-9zM293 263h4v5h-4zM280 268h9v4h-9zM268 272h12v5h-12zM479 272h8v5h-8zM264 277h8v4h-8zM466 277h21v4h-21zM264 281h8v4h-8zM466 281h21v4h-21zM264 285h8v5h-8zM466 285h21v5h-21zM264 290h8v4h-8zM462 290h4v4h-4zM471 290h12v4h-12zM264 294h8v5h-8zM462 294h4v5h-4zM475 294h8v5h-8zM259 299h9v4h-9zM462 299h4v4h-4zM487 299h13v4h-13zM255 303h13v4h-13zM462 303h4v4h-4zM504 303h5v4h-5zM255 307h9v5h-9zM458 307h4v5h-4zM509 307h4v5h-4zM251 312h8v4h-8zM458 312h4v4h-4zM247 316h8v5h-8zM458 316h4v5h-4zM242 321h9v4h-9zM454 321h8v4h-8zM238 325h9v4h-9zM454 325h4v4h-4zM234 329h8v5h-8zM445 329h13v5h-13zM230 334h17v4h-17zM445 334h13v4h-13zM513 334h4v4h-4zM230 338h17v4h-17zM445 338h13v4h-13zM513 338h4v4h-4zM230 342h21v5h-21zM445 342h13v5h-13zM513 342h4v5h-4zM230 347h21v4h-21zM445 347h13v4h-13zM234 351h25v4h-25zM445 351h9v4h-9zM521 351h13v4h-13zM238 355h30v5h-30zM445 355h9v5h-9zM538 355h4v5h-4zM268 360h4v4h-4zM445 360h9v4h-9zM542 360h5v4h-5zM268 364h4v4h-4zM445 364h9v4h-9zM268 368h4v5h-4zM441 368h13v5h-13zM547 368h4v5h-4zM268 373h4v4h-4zM441 373h13v4h-13zM547 373h4v4h-4zM441 377h13v4h-13zM547 377h4v4h-4zM247 381h4v5h-4zM272 381h4v5h-4zM441 381h13v5h-13zM547 381h4v5h-4zM631 381h13v5h-13zM242 386h30v4h-30zM437 386h8v4h-8zM551 386h4v4h-4zM631 386h13v4h-13zM242 390h13v4h-13zM437 390h4v4h-4zM559 390h5v4h-5zM631 390h13v4h-13zM242 394h5v4h-5zM428 394h9v4h-9zM564 394h4v4h-4zM631 394h13v4h-13zM238 398h9v5h-9zM428 398h9v5h-9zM564 398h4v5h-4zM242 403h5v4h-5zM420 403h8v4h-8zM580 403h64v4h-64zM242 407h5v4h-5zM420 407h4v4h-4zM576 407h68v4h-68zM420 411h4v5h-4zM572 411h72v5h-72zM568 416h76v4h-76zM238 420h4v4h-4zM411 420h9v4h-9zM568 420h76v4h-76zM234 424h4v4h-4zM407 424h9v4h-9zM580 424h64v4h-64zM230 428h4v5h-4zM407 428h4v5h-4zM585 428h59v5h-59zM221 433h5v4h-5zM403 433h8v4h-8zM585 433h59v4h-59zM221 437h5v4h-5zM403 437h4v4h-4zM585 437h59v4h-59zM179 441h4v4h-4zM217 441h9v4h-9zM399 441h4v4h-4zM585 441h59v4h-59zM175 445h38v5h-38zM217 445h9v5h-9zM395 445h8v5h-8zM585 445h59v5h-59zM175 450h4v4h-4zM200 450h21v4h-21zM361 450h12v4h-12zM395 450h8v4h-8zM585 450h59v4h-59zM187 454h39v4h-39zM356 454h22v4h-22zM390 454h5v4h-5zM585 454h59v4h-59zM217 458h13v4h-13zM352 458h30v4h-30zM386 458h9v4h-9zM585 458h59v4h-59zM221 462h13v5h-13zM344 462h21v5h-21zM369 462h21v5h-21zM585 462h59v5h-59zM221 467h26v4h-26zM335 467h26v4h-26zM373 467h13v4h-13zM585 467h59v4h-59zM230 471h50v4h-50zM318 471h34v4h-34zM585 471h59v4h-59zM247 475h50v4h-50zM302 475h33v4h-33zM585 475h59v4h-59zM280 479h38v5h-38zM585 479h59v5h-59zM297 484h5v4h-5zM585 484h59v4h-59zM589 488h55v4h-55zM593 492h51v4h-51zM597 496h47v5h-47zM602 501h42v4h-42zM602 505h42v4h-42zM602 509h42v4h-42zM602 513h42v5h-42zM602 518h42v4h-42z"/><path fill="#00ccff" d="M416 196h21v5h-21zM568 196h76v5h-76zM403 201h42v4h-42zM568 201h76v4h-76zM390 205h68v5h-68zM559 205h85v5h-85zM373 210h34v4h-34zM445 210h17v4h-17zM555 210h89v4h-89zM348 214h42v5h-42zM454 214h21v5h-21zM517 214h127v5h-127zM335 219h38v4h-38zM462 219h25v4h-25zM509 219h135v4h-135zM331 223h25v5h-25zM466 223h51v5h-51zM555 223h89v5h-89zM327 228h17v4h-17zM475 228h17v4h-17zM504 228h13v4h-13zM564 228h80v4h-80zM327 232h13v5h-13zM475 232h8v5h-8zM504 232h9v5h-9zM327 237h4v4h-4zM475 237h8v4h-8zM509 237h4v4h-4zM327 241h4v5h-4zM475 241h8v5h-8zM509 241h4v5h-4zM323 246h8v4h-8zM479 246h4v4h-4zM504 246h5v4h-5zM318 250h9v4h-9zM479 250h25v4h-25zM310 254h8v5h-8zM483 254h21v5h-21zM306 259h4v4h-4zM483 259h4v4h-4zM297 263h9v5h-9zM479 263h13v5h-13zM289 268h13v4h-13zM471 268h21v4h-21zM280 272h9v5h-9zM466 272h13v5h-13zM487 272h5v5h-5zM272 277h4v4h-4zM462 277h4v4h-4zM487 277h5v4h-5zM272 281h4v4h-4zM462 281h4v4h-4zM487 281h5v4h-5zM272 285h4v5h-4zM462 285h4v5h-4zM487 285h5v5h-5zM272 290h4v4h-4zM458 290h4v4h-4zM483 290h9v4h-9zM272 294h4v5h-4zM458 294h4v5h-4zM483 294h9v5h-9zM268 299h8v4h-8zM458 299h4v4h-4zM500 299h4v4h-4zM268 303h8v4h-8zM458 303h4v4h-4zM264 307h8v5h-8zM454 307h4v5h-4zM259 312h13v4h-13zM454 312h4v4h-4zM513 312h4v4h-4zM255 316h13v5h-13zM454 316h4v5h-4zM513 316h4v5h-4zM251 321h13v4h-13zM445 321h9v4h-9zM513 321h4v4h-4zM247 325h12v4h-12zM441 325h13v4h-13zM513 325h4v4h-4zM242 329h13v5h-13zM437 329h8v5h-8zM513 329h4v5h-4zM247 334h12v4h-12zM433 334h12v4h-12zM247 338h12v4h-12zM433 338h12v4h-12zM251 342h8v5h-8zM428 342h17v5h-17zM517 342h4v5h-4zM251 347h13v4h-13zM428 347h17v4h-17zM517 347h8v4h-8zM259 351h9v4h-9zM428 351h17v4h-17zM534 351h4v4h-4zM268 355h4v5h-4zM428 355h17v5h-17zM542 355h5v5h-5zM428 360h17v4h-17zM547 360h4v4h-4zM272 364h4v4h-4zM428 364h17v4h-17zM547 364h4v4h-4zM272 368h4v5h-4zM424 368h17v5h-17zM623 368h21v5h-21zM272 373h4v4h-4zM424 373h17v4h-17zM580 373h64v4h-64zM272 377h4v4h-4zM420 377h21v4h-21zM576 377h68v4h-68zM276 381h4v5h-4zM420 381h21v5h-21zM576 381h55v5h-55zM272 386h4v4h-4zM416 386h21v4h-21zM555 386h13v4h-13zM572 386h59v4h-59zM255 390h13v4h-13zM416 390h21v4h-21zM564 390h67v4h-67zM247 394h12v4h-12zM411 394h17v4h-17zM568 394h63v4h-63zM247 398h8v5h-8zM411 398h17v5h-17zM568 398h76v5h-76zM247 403h4v4h-4zM407 403h13v4h-13zM568 403h12v4h-12zM407 407h13v4h-13zM568 407h8v4h-8zM242 411h5v5h-5zM403 411h17v5h-17zM568 411h4v5h-4zM242 416h5v4h-5zM403 416h17v4h-17zM242 420h5v4h-5zM399 420h12v4h-12zM238 424h4v4h-4zM399 424h8v4h-8zM234 428h8v5h-8zM399 428h8v5h-8zM226 433h4v4h-4zM395 433h8v4h-8zM226 437h4v4h-4zM390 437h13v4h-13zM226 441h4v4h-4zM361 441h12v4h-12zM390 441h9v4h-9zM226 445h4v5h-4zM352 445h30v5h-30zM386 445h9v5h-9zM179 450h21v4h-21zM221 450h9v4h-9zM344 450h17v4h-17zM373 450h9v4h-9zM386 450h9v4h-9zM226 454h12v4h-12zM335 454h21v4h-21zM378 454h12v4h-12zM230 458h17v4h-17zM327 458h25v4h-25zM382 458h4v4h-4zM234 462h46v5h-46zM314 462h30v5h-30zM247 467h50v4h-50zM302 467h33v4h-33zM280 471h38v4h-38zM297 475h5v4h-5z"/><path fill="#00e6ff" d="M407 210h38v4h-38zM390 214h64v5h-64zM373 219h38v4h-38zM441 219h21v4h-21zM356 223h34v5h-34zM449 223h17v5h-17zM517 223h38v5h-38zM344 228h29v4h-29zM458 228h17v4h-17zM517 228h47v4h-47zM340 232h21v5h-21zM462 232h13v5h-13zM513 232h131v5h-131zM331 237h25v4h-25zM471 237h4v4h-4zM513 237h4v4h-4zM542 237h102v4h-102zM331 241h21v5h-21zM471 241h4v5h-4zM513 241h4v5h-4zM555 241h63v5h-63zM331 246h13v4h-13zM471 246h8v4h-8zM509 246h4v4h-4zM564 246h50v4h-50zM327 250h8v4h-8zM471 250h8v4h-8zM504 250h9v4h-9zM318 254h13v5h-13zM475 254h8v5h-8zM504 254h5v5h-5zM310 259h8v4h-8zM475 259h8v4h-8zM487 259h17v4h-17zM306 263h8v5h-8zM466 263h13v5h-13zM492 263h12v5h-12zM302 268h8v4h-8zM462 268h9v4h-9zM492 268h8v4h-8zM289 272h13v5h-13zM458 272h8v5h-8zM492 272h4v5h-4zM276 277h13v4h-13zM458 277h4v4h-4zM492 277h4v4h-4zM276 281h13v4h-13zM458 281h4v4h-4zM492 281h4v4h-4zM276 285h13v5h-13zM458 285h4v5h-4zM492 285h8v5h-8zM276 290h9v4h-9zM454 290h4v4h-4zM492 290h8v4h-8zM276 294h9v5h-9zM454 294h4v5h-4zM492 294h12v5h-12zM276 299h9v4h-9zM454 299h4v4h-4zM504 299h5v4h-5zM276 303h9v4h-9zM454 303h4v4h-4zM509 303h4v4h-4zM272 307h13v5h-13zM449 307h5v5h-5zM513 307h4v5h-4zM272 312h13v4h-13zM445 312h9v4h-9zM268 316h12v5h-12zM441 316h13v5h-13zM264 321h12v4h-12zM437 321h8v4h-8zM259 325h13v4h-13zM428 325h13v4h-13zM255 329h13v5h-13zM420 329h17v5h-17zM517 329h4v5h-4zM259 334h9v4h-9zM416 334h17v4h-17zM517 334h4v4h-4zM259 338h9v4h-9zM416 338h17v4h-17zM517 338h8v4h-8zM259 342h9v5h-9zM411 342h17v5h-17zM521 342h9v5h-9zM264 347h4v4h-4zM411 347h17v4h-17zM525 347h5v4h-5zM614 347h30v4h-30zM268 351h4v4h-4zM411 351h17v4h-17zM538 351h9v4h-9zM606 351h38v4h-38zM272 355h4v5h-4zM411 355h17v5h-17zM547 355h4v5h-4zM580 355h64v5h-64zM272 360h4v4h-4zM411 360h17v4h-17zM568 360h76v4h-76zM276 364h4v4h-4zM411 364h17v4h-17zM559 364h85v4h-85zM276 368h4v5h-4zM407 368h17v5h-17zM555 368h68v5h-68zM276 373h4v4h-4zM407 373h17v4h-17zM551 373h29v4h-29zM276 377h4v4h-4zM407 377h13v4h-13zM551 377h25v4h-25zM280 381h5v5h-5zM407 381h13v5h-13zM551 381h25v5h-25zM276 386h4v4h-4zM403 386h13v4h-13zM568 386h4v4h-4zM268 390h8v4h-8zM403 390h13v4h-13zM259 394h9v4h-9zM399 394h12v4h-12zM255 398h4v5h-4zM395 398h16v5h-16zM251 403h8v4h-8zM395 403h12v4h-12zM247 407h8v4h-8zM395 407h12v4h-12zM247 411h4v5h-4zM390 411h13v5h-13zM390 416h13v4h-13zM390 420h9v4h-9zM242 424h5v4h-5zM386 424h13v4h-13zM242 428h5v5h-5zM365 428h8v5h-8zM386 428h13v5h-13zM230 433h17v4h-17zM361 433h21v4h-21zM386 433h9v4h-9zM230 437h17v4h-17zM352 437h38v4h-38zM230 441h17v4h-17zM340 441h21v4h-21zM373 441h17v4h-17zM230 445h17v5h-17zM327 445h25v5h-25zM382 445h4v5h-4zM230 450h17v4h-17zM318 450h26v4h-26zM382 450h4v4h-4zM238 454h38v4h-38zM306 454h29v4h-29zM247 458h80v4h-80zM280 462h34v5h-34zM297 467h5v4h-5z"/><path fill="#00ffff" d="M411 219h30v4h-30zM390 223h59v5h-59zM373 228h85v4h-85zM361 232h46v5h-46zM445 232h17v5h-17zM356 237h17v4h-17zM454 237h17v4h-17zM517 237h25v4h-25zM352 241h9v5h-9zM462 241h9v5h-9zM517 241h38v5h-38zM618 241h26v5h-26zM344 246h17v4h-17zM462 246h9v4h-9zM513 246h51v4h-51zM614 246h30v4h-30zM335 250h21v4h-21zM462 250h9v4h-9zM513 250h4v4h-4zM538 250h106v4h-106zM331 254h21v5h-21zM462 254h13v5h-13zM509 254h8v5h-8zM547 254h97v5h-97zM318 259h30v4h-30zM462 259h13v4h-13zM504 259h9v4h-9zM555 259h89v4h-89zM314 263h21v5h-21zM458 263h8v5h-8zM504 263h5v5h-5zM564 263h80v5h-80zM310 268h17v4h-17zM454 268h8v4h-8zM500 268h9v4h-9zM572 268h72v4h-72zM302 272h21v5h-21zM454 272h4v5h-4zM496 272h8v5h-8zM576 272h68v5h-68zM289 277h25v4h-25zM454 277h4v4h-4zM496 277h4v4h-4zM580 277h64v4h-64zM289 281h21v4h-21zM454 281h4v4h-4zM496 281h4v4h-4zM585 281h59v4h-59zM289 285h17v5h-17zM454 285h4v5h-4zM500 285h4v5h-4zM597 285h47v5h-47zM285 290h21v4h-21zM500 290h9v4h-9zM602 290h42v4h-42zM285 294h21v5h-21zM504 294h5v5h-5zM606 294h38v5h-38zM285 299h17v4h-17zM449 299h5v4h-5zM509 299h4v4h-4zM610 299h34v4h-34zM285 303h12v4h-12zM445 303h9v4h-9zM513 303h4v4h-4zM614 303h30v4h-30zM285 307h12v5h-12zM441 307h8v5h-8zM614 307h30v5h-30zM285 312h8v4h-8zM437 312h8v4h-8zM517 312h4v4h-4zM614 312h30v4h-30zM280 316h13v5h-13zM428 316h13v5h-13zM517 316h8v5h-8zM614 316h30v5h-30zM276 321h13v4h-13zM420 321h17v4h-17zM517 321h8v4h-8zM614 321h30v4h-30zM272 325h17v4h-17zM411 325h17v4h-17zM517 325h8v4h-8zM610 325h34v4h-34zM268 329h17v5h-17zM403 329h17v5h-17zM521 329h9v5h-9zM606 329h38v5h-38zM268 334h12v4h-12zM399 334h17v4h-17zM521 334h9v4h-9zM597 334h47v4h-47zM268 338h8v4h-8zM399 338h17v4h-17zM525 338h9v4h-9zM589 338h55v4h-55zM268 342h8v5h-8zM399 342h12v5h-12zM530 342h8v5h-8zM568 342h76v5h-76zM268 347h8v4h-8zM399 347h12v4h-12zM530 347h12v4h-12zM564 347h50v4h-50zM272 351h4v4h-4zM399 351h12v4h-12zM547 351h4v4h-4zM559 351h47v4h-47zM276 355h4v5h-4zM399 355h12v5h-12zM555 355h25v5h-25zM276 360h4v4h-4zM399 360h12v4h-12zM551 360h17v4h-17zM399 364h12v4h-12zM551 364h8v4h-8zM280 368h5v5h-5zM395 368h12v5h-12zM551 368h4v5h-4zM280 373h5v4h-5zM395 373h12v4h-12zM280 377h9v4h-9zM395 377h12v4h-12zM285 381h4v5h-4zM395 381h12v5h-12zM280 386h5v4h-5zM395 386h8v4h-8zM276 390h4v4h-4zM390 390h13v4h-13zM268 394h8v4h-8zM386 394h13v4h-13zM259 398h9v5h-9zM386 398h9v5h-9zM259 403h9v4h-9zM382 403h13v4h-13zM255 407h9v4h-9zM378 407h17v4h-17zM251 411h8v5h-8zM373 411h17v5h-17zM247 416h8v4h-8zM369 416h21v4h-21zM247 420h12v4h-12zM365 420h25v4h-25zM247 424h12v4h-12zM361 424h25v4h-25zM247 428h17v5h-17zM352 428h13v5h-13zM373 428h13v5h-13zM247 433h17v4h-17zM335 433h26v4h-26zM382 433h4v4h-4zM247 437h21v4h-21zM310 437h42v4h-42zM247 441h25v4h-25zM302 441h38v4h-38zM247 445h80v5h-80zM247 450h71v4h-71zM276 454h30v4h-30z"/><path fill="#00ffe6" d="M407 232h38v5h-38zM373 237h81v4h-81zM361 241h55v5h-55zM437 241h25v5h-25zM361 246h38v4h-38zM445 246h17v4h-17zM356 250h26v4h-26zM449 250h13v4h-13zM517 250h21v4h-21zM352 254h21v5h-21zM449 254h13v5h-13zM517 254h30v5h-30zM348 259h17v4h-17zM454 259h8v4h-8zM513 259h4v4h-4zM521 259h34v4h-34zM335 263h30v5h-30zM449 263h9v5h-9zM509 263h8v5h-8zM530 263h34v5h-34zM327 268h29v4h-29zM445 268h9v4h-9zM509 268h8v4h-8zM538 268h34v4h-34zM323 272h21v5h-21zM445 272h9v5h-9zM504 272h9v5h-9zM555 272h21v5h-21zM314 277h17v4h-17zM445 277h9v4h-9zM500 277h9v4h-9zM564 277h16v4h-16zM310 281h21v4h-21zM445 281h9v4h-9zM500 281h9v4h-9zM564 281h21v4h-21zM306 285h21v5h-21zM445 285h9v5h-9zM504 285h9v5h-9zM572 285h25v5h-25zM306 290h17v4h-17zM445 290h9v4h-9zM509 290h4v4h-4zM576 290h26v4h-26zM306 294h8v5h-8zM445 294h9v5h-9zM509 294h4v5h-4zM589 294h17v5h-17zM302 299h12v4h-12zM441 299h8v4h-8zM513 299h4v4h-4zM589 299h21v4h-21zM297 303h17v4h-17zM437 303h8v4h-8zM517 303h8v4h-8zM593 303h21v4h-21zM297 307h13v5h-13zM428 307h13v5h-13zM517 307h13v5h-13zM597 307h17v5h-17zM293 312h13v4h-13zM424 312h13v4h-13zM521 312h9v4h-9zM606 312h8v4h-8zM293 316h13v5h-13zM416 316h12v5h-12zM525 316h9v5h-9zM597 316h17v5h-17zM289 321h17v4h-17zM403 321h17v4h-17zM525 321h9v4h-9zM589 321h25v4h-25zM289 325h13v4h-13zM395 325h16v4h-16zM525 325h9v4h-9zM576 325h34v4h-34zM285 329h12v5h-12zM390 329h13v5h-13zM530 329h4v5h-4zM572 329h34v5h-34zM280 334h17v4h-17zM390 334h9v4h-9zM530 334h21v4h-21zM555 334h42v4h-42zM276 338h17v4h-17zM390 338h9v4h-9zM534 338h17v4h-17zM555 338h34v4h-34zM276 342h4v5h-4zM390 342h9v5h-9zM538 342h13v5h-13zM555 342h13v5h-13zM276 347h4v4h-4zM390 347h9v4h-9zM542 347h9v4h-9zM555 347h9v4h-9zM276 351h4v4h-4zM390 351h9v4h-9zM551 351h8v4h-8zM280 355h5v5h-5zM390 355h9v5h-9zM551 355h4v5h-4zM280 360h9v4h-9zM390 360h9v4h-9zM280 364h13v4h-13zM390 364h9v4h-9zM285 368h8v5h-8zM386 368h9v5h-9zM285 373h8v4h-8zM386 373h9v4h-9zM289 377h4v4h-4zM386 377h9v4h-9zM289 381h4v5h-4zM386 381h9v5h-9zM285 386h8v4h-8zM378 386h17v4h-17zM280 390h9v4h-9zM373 390h17v4h-17zM276 394h4v4h-4zM369 394h17v4h-17zM268 398h8v5h-8zM369 398h17v5h-17zM268 403h8v4h-8zM361 403h21v4h-21zM264 407h8v4h-8zM361 407h17v4h-17zM259 411h13v5h-13zM361 411h12v5h-12zM255 416h9v4h-9zM361 416h8v4h-8zM259 420h9v4h-9zM352 420h13v4h-13zM259 424h13v4h-13zM344 424h17v4h-17zM264 428h12v5h-12zM306 428h46v5h-46zM264 433h16v4h-16zM285 433h50v4h-50zM268 437h42v4h-42zM272 441h30v4h-30z"/><path fill="#00ffcc" d="M416 241h21v5h-21zM399 246h46v4h-46zM382 250h67v4h-67zM373 254h26v5h-26zM437 254h12v5h-12zM365 259h25v4h-25zM441 259h13v4h-13zM517 259h4v4h-4zM365 263h25v5h-25zM437 263h12v5h-12zM517 263h13v5h-13zM356 268h26v4h-26zM437 268h8v4h-8zM517 268h21v4h-21zM344 272h34v5h-34zM437 272h8v5h-8zM513 272h42v5h-42zM331 277h42v4h-42zM437 277h8v4h-8zM509 277h8v4h-8zM521 277h43v4h-43zM331 281h42v4h-42zM437 281h8v4h-8zM509 281h8v4h-8zM521 281h43v4h-43zM327 285h46v5h-46zM437 285h8v5h-8zM513 285h4v5h-4zM521 285h51v5h-51zM323 290h50v4h-50zM437 290h8v4h-8zM513 290h4v4h-4zM521 290h55v4h-55zM314 294h34v5h-34zM352 294h21v5h-21zM437 294h8v5h-8zM513 294h4v5h-4zM521 294h68v5h-68zM314 299h34v4h-34zM352 299h26v4h-26zM428 299h13v4h-13zM517 299h72v4h-72zM314 303h34v4h-34zM352 303h30v4h-30zM420 303h17v4h-17zM525 303h68v4h-68zM310 307h38v5h-38zM352 307h38v5h-38zM411 307h17v5h-17zM530 307h67v5h-67zM306 312h42v4h-42zM369 312h30v4h-30zM403 312h21v4h-21zM530 312h76v4h-76zM306 316h34v5h-34zM373 316h43v5h-43zM534 316h63v5h-63zM306 321h21v4h-21zM378 321h25v4h-25zM534 321h55v4h-55zM302 325h21v4h-21zM378 325h17v4h-17zM534 325h42v4h-42zM297 329h26v5h-26zM378 329h12v5h-12zM534 329h38v5h-38zM297 334h21v4h-21zM378 334h12v4h-12zM551 334h4v4h-4zM293 338h17v4h-17zM378 338h12v4h-12zM551 338h4v4h-4zM280 342h26v5h-26zM378 342h12v5h-12zM551 342h4v5h-4zM280 347h26v4h-26zM378 347h12v4h-12zM551 347h4v4h-4zM280 351h26v4h-26zM373 351h17v4h-17zM285 355h21v5h-21zM369 355h21v5h-21zM289 360h17v4h-17zM365 360h25v4h-25zM293 364h13v4h-13zM361 364h29v4h-29zM293 368h13v5h-13zM361 368h25v5h-25zM293 373h9v4h-9zM361 373h25v4h-25zM293 377h9v4h-9zM361 377h25v4h-25zM293 381h4v5h-4zM361 381h25v5h-25zM293 386h4v4h-4zM356 386h22v4h-22zM289 390h8v4h-8zM352 390h21v4h-21zM280 394h13v4h-13zM348 394h21v4h-21zM276 398h4v5h-4zM344 398h25v5h-25zM276 403h4v4h-4zM344 403h17v4h-17zM272 407h8v4h-8zM348 407h13v4h-13zM272 411h8v5h-8zM348 411h13v5h-13zM264 416h16v4h-16zM352 416h9v4h-9zM268 420h21v4h-21zM327 420h25v4h-25zM272 424h72v4h-72zM276 428h30v5h-30zM280 433h5v4h-5z"/><path fill="#00ffb2" d="M399 254h38v5h-38zM390 259h51v4h-51zM390 263h47v5h-47zM382 268h55v4h-55zM378 272h59v5h-59zM373 277h26v4h-26zM420 277h17v4h-17zM517 277h4v4h-4zM373 281h26v4h-26zM420 281h17v4h-17zM517 281h4v4h-4zM373 285h26v5h-26zM420 285h17v5h-17zM517 285h4v5h-4zM373 290h26v4h-26zM420 290h17v4h-17zM517 290h4v4h-4zM348 294h4v5h-4zM373 294h26v5h-26zM420 294h17v5h-17zM517 294h4v5h-4zM348 299h4v4h-4zM378 299h50v4h-50zM348 303h4v4h-4zM382 303h38v4h-38zM348 307h4v5h-4zM390 307h21v5h-21zM348 312h21v4h-21zM399 312h4v4h-4zM340 316h33v5h-33zM327 321h51v4h-51zM323 325h55v4h-55zM323 329h8v5h-8zM369 329h9v5h-9zM318 334h13v4h-13zM352 334h26v4h-26zM310 338h21v4h-21zM352 338h26v4h-26zM306 342h25v5h-25zM352 342h26v5h-26zM306 347h8v4h-8zM352 347h26v4h-26zM306 351h8v4h-8zM352 351h21v4h-21zM306 355h8v5h-8zM352 355h17v5h-17zM306 360h8v4h-8zM352 360h13v4h-13zM306 364h8v4h-8zM352 364h9v4h-9zM306 368h8v5h-8zM335 368h26v5h-26zM302 373h12v4h-12zM335 373h26v4h-26zM302 377h12v4h-12zM335 377h26v4h-26zM297 381h17v5h-17zM335 381h26v5h-26zM297 386h17v4h-17zM335 386h21v4h-21zM297 390h17v4h-17zM335 390h17v4h-17zM293 394h21v4h-21zM335 394h13v4h-13zM280 398h34v5h-34zM335 398h9v5h-9zM280 403h34v4h-34zM318 403h26v4h-26zM280 407h34v4h-34zM318 407h30v4h-30zM280 411h34v5h-34zM318 411h30v5h-30zM280 416h17v4h-17zM318 416h34v4h-34zM289 420h38v4h-38z"/><path fill="#00ff99" d="M399 277h21v4h-21zM399 281h21v4h-21zM399 285h21v5h-21zM399 290h21v4h-21zM399 294h21v5h-21zM331 329h38v5h-38zM331 334h21v4h-21zM331 338h21v4h-21zM331 342h21v5h-21zM314 347h38v4h-38zM314 351h38v4h-38zM314 355h38v5h-38zM314 360h38v4h-38zM314 364h38v4h-38zM314 368h21v5h-21zM314 373h21v4h-21zM314 377h21v4h-21zM314 381h21v5h-21zM314 386h21v4h-21zM314 390h21v4h-21zM314 394h21v4h-21zM314 398h21v5h-21zM314 403h4v4h-4zM314 407h4v4h-4zM314 411h4v5h-4zM297 416h21v4h-21z"/><path fill="#000044" d="M107 411h9v5h-9zM107 416h13v4h-13zM107 420h13v4h-13zM107 424h17v4h-17zM107 428h26v5h-26zM107 433h26v4h-26zM107 437h26v4h-26zM107 441h30v4h-30zM107 445h30v5h-30zM107 450h30v4h-30zM107 454h30v4h-30zM107 458h34v4h-34zM107 462h42v5h-42zM107 467h47v4h-47zM107 471h47v4h-47zM107 475h51v4h-51zM107 479h59v5h-59zM107 484h64v4h-64zM107 488h64v4h-64zM107 492h64v4h-64zM107 496h68v5h-68zM107 501h72v4h-72zM107 505h76v4h-76zM107 509h76v4h-76zM107 513h80v5h-80zM107 518h80v4h-80zM107 522h80v4h-80zM107 526h80v4h-80zM107 530h80v5h-80zM107 535h80v4h-80zM107 539h80v4h-80zM107 543h80v4h-80zM107 547h85v4h-85zM107 551h85v5h-85zM107 556h89v4h-89zM107 560h93v4h-93zM107 564h97v4h-97zM107 568h97v5h-97z"/><path fill="#0033ff" d="M475.0 338.0L495.0 336.0L507.0 338.0L521.0 346.0L535.0 354.0L544.0 360.0L549.0 366.0L553.0 374.0L549.0 380.0L551.0 388.0L555.0 396.0L559.0 400.0L559.0 420.0L545.0 420.0L535.0 428.0L521.0 426.0L519.0 420.0L521.0 412.0L515.0 412.0L511.0 404.0L511.0 392.0L502.0 393.0L502.0 369.0L495.0 360.0L487.0 362.0L477.0 344.0z"/><path fill="#0033ff" d="M617.0 71.2L620.6 65.8L631.4 65.8L633.2 72.1L629.6 88.4L617.0 88.4z"/><path fill="#001aff" d="M620.6 70.3L629.6 70.3L627.8 83.0L620.6 86.6z"/><path fill="#0066ff" d="M368.0 297.0L378.0 297.0L378.0 306.0L368.0 306.0z"/><path fill="#0033ff" d="M370.0 299.0L376.0 299.0L376.0 304.0L370.0 304.0z"/><path fill="#004cff" d="M526.1 140.5L542.3 139.1L545.0 150.7L539.6 161.5L526.1 162.8L523.4 150.7z"/><path fill="#001aff" d="M528.8 143.9L539.6 143.2L540.3 152.0L530.1 153.4z"/><path fill="#0066ff" d="M553.8 136.4L559.9 136.4L560.6 150.7L558.6 166.9L553.8 166.9z"/><path fill="#004cff" d="M523.4 118.1L530.1 118.1L530.8 127.6L524.0 127.6z"/><path fill="#0066ff" d="M595.0 107.0L609.0 100.0L611.0 110.0L606.0 124.0L598.0 130.0L594.0 120.0z"/></g>
<path d="M130.5 37V571M214.5 37V571M299.5 37V571M383.5 37V571M468.5 37V571M552.5 37V571M637.5 37V571M112 570.5H638M112 485.5H638M112 400.5H638M112 314.5H638M112 225.5H638M112 133.5H638M112 38.5H638" stroke="#000" stroke-width="1" fill="none" shape-rendering="crispEdges"/>
<path d="M130.4 417.7L114.8 421.0M114.8 421.0L118.4 417.3M114.8 421.0L119.6 423.0M130.4 400.6L114.8 403.9M114.8 403.9L118.4 400.1M114.8 403.9L119.6 405.9M130.4 383.4L114.8 386.7M114.8 386.7L118.4 383.0M114.8 386.7L119.6 388.7M130.4 366.2L114.8 369.5M114.8 369.5L118.4 365.7M114.8 369.5L119.6 371.5M130.4 348.8L114.8 352.2M114.8 352.2L118.4 348.4M114.8 352.2L119.6 354.1M147.3 451.9L131.9 456.2M131.9 456.2L135.3 452.2M131.9 456.2L136.9 457.9M147.3 434.8L131.6 437.6M131.6 437.6L135.3 434.0M131.6 437.6L136.3 439.7M147.3 417.7L131.7 421.0M131.7 421.0L135.3 417.3M131.7 421.0L136.5 423.0M147.3 400.6L131.7 403.9M131.7 403.9L135.3 400.1M131.7 403.9L136.5 405.9M147.3 383.4L131.7 386.7M131.7 386.7L135.3 383.0M131.7 386.7L136.5 388.7M147.3 366.2L131.7 369.5M131.7 369.5L135.3 365.7M131.7 369.5L136.5 371.5M164.2 451.9L149.4 457.8M149.4 457.8L152.3 453.5M149.4 457.8L154.5 459.0M164.2 434.8L148.5 437.6M148.5 437.6L152.2 434.0M148.5 437.6L153.2 439.7M164.2 417.7L148.6 421.0M148.6 421.0L152.2 417.3M148.6 421.0L153.4 423.0M164.2 400.6L148.6 403.9M148.6 403.9L152.2 400.1M148.6 403.9L153.4 405.9M164.2 383.4L148.6 386.7M148.6 386.7L152.2 383.0M148.6 386.7L153.4 388.7M164.2 366.2L148.6 369.5M148.6 369.5L152.2 365.7M148.6 369.5L153.4 371.5M181.1 468.9L168.5 478.7M168.5 478.7L170.1 473.7M168.5 478.7L173.7 478.4M181.1 451.9L166.3 457.9M166.3 457.9L169.2 453.5M166.3 457.9L171.4 459.0M181.1 434.8L165.4 437.6M165.4 437.6L169.1 434.0M165.4 437.6L170.1 439.7M181.1 417.7L165.5 421.0M165.5 421.0L169.1 417.3M165.5 421.0L170.3 423.0M181.1 400.6L165.5 403.9M165.5 403.9L169.1 400.1M165.5 403.9L170.3 405.9M181.1 383.4L165.5 386.7M165.5 386.7L169.1 383.0M165.5 386.7L170.3 388.7M198.0 519.7L188.4 532.5M188.4 532.5L188.7 527.3M188.4 532.5L193.3 530.8M198.0 502.8L188.4 515.6M188.4 515.6L188.7 510.4M188.4 515.6L193.3 513.9M198.0 485.8L185.4 495.7M185.4 495.7L187.0 490.7M185.4 495.7L190.6 495.4M198.0 468.9L185.4 478.7M185.4 478.7L187.0 473.7M185.4 478.7L190.6 478.4M198.0 451.9L183.2 457.9M183.2 457.9L186.1 453.5M183.2 457.9L188.3 459.0M198.0 434.8L182.3 437.6M182.3 437.6L186.0 434.0M182.3 437.6L187.0 439.7M198.0 417.7L182.4 421.1M182.4 421.1L186.0 417.3M182.4 421.1L187.2 423.0M198.0 400.6L182.4 403.9M182.4 403.9L186.0 400.2M182.4 403.9L187.2 405.9M214.9 570.5L205.3 583.2M205.3 583.2L205.6 578.0M205.3 583.2L210.2 581.6M214.9 553.5L205.3 566.3M205.3 566.3L205.6 561.1M205.3 566.3L210.2 564.7M214.9 536.6L205.3 549.4M205.3 549.4L205.6 544.2M205.3 549.4L210.2 547.8M214.9 519.7L205.3 532.5M205.3 532.5L205.6 527.3M205.3 532.5L210.2 530.8M214.9 502.8L205.3 515.6M205.3 515.6L205.6 510.4M205.3 515.6L210.2 513.9M214.9 485.8L202.4 495.7M202.4 495.7L203.9 490.8M202.4 495.7L207.5 495.4M214.9 468.9L202.3 478.7M202.3 478.7L203.9 473.8M202.3 478.7L207.5 478.4M214.9 451.9L200.1 457.9M200.1 457.9L203.0 453.5M200.1 457.9L205.2 459.0M214.9 434.8L199.2 437.6M199.2 437.6L202.9 434.0M199.2 437.6L203.9 439.8M231.8 570.5L222.2 583.2M222.2 583.2L222.5 578.0M222.2 583.2L227.1 581.6M231.8 553.5L222.2 566.3M222.2 566.3L222.5 561.1M222.2 566.3L227.1 564.7M231.8 536.6L222.2 549.4M222.2 549.4L222.5 544.2M222.2 549.4L227.1 547.8M231.8 502.8L222.2 515.6M222.2 515.6L222.5 510.4M222.2 515.6L227.1 513.9M231.8 485.8L220.5 497.2M220.5 497.2L221.5 492.0M220.5 497.2L225.6 496.2M231.8 468.9L220.5 480.2M220.5 480.2L221.5 475.1M220.5 480.2L225.6 479.2M231.8 451.9L220.5 463.2M220.5 463.2L221.5 458.0M220.5 463.2L225.6 462.2M231.8 434.8L220.5 446.1M220.5 446.1L221.5 441.0M220.5 446.1L225.6 445.2M231.8 417.7L219.2 427.5M219.2 427.5L220.8 422.5M219.2 427.5L224.4 427.2M231.8 243.3L224.3 257.4M224.3 257.4L223.7 252.2M224.3 257.4L228.9 255.0M231.8 225.4L224.3 239.5M224.3 239.5L223.8 234.3M224.3 239.5L228.9 237.1M248.7 570.5L239.1 583.2M239.1 583.2L239.4 578.0M239.1 583.2L244.0 581.6M248.7 553.5L239.1 566.3M239.1 566.3L239.4 561.1M239.1 566.3L244.0 564.7M248.7 536.6L239.1 549.4M239.1 549.4L239.4 544.2M239.1 549.4L244.0 547.8M248.7 519.7L239.1 532.5M239.1 532.5L239.4 527.3M239.1 532.5L244.0 530.8M248.7 502.8L239.1 515.6M239.1 515.6L239.4 510.4M239.1 515.6L244.0 513.9M248.7 485.8L237.4 497.2M237.4 497.2L238.4 492.1M237.4 497.2L242.6 496.2M248.7 468.9L237.4 480.2M237.4 480.2L238.4 475.1M237.4 480.2L242.5 479.2M248.7 451.9L237.4 463.2M237.4 463.2L238.4 458.1M237.4 463.2L242.5 462.2M248.7 434.8L237.4 446.1M237.4 446.1L238.4 441.0M237.4 446.1L242.5 445.2M248.7 417.7L236.1 427.6M236.1 427.6L237.7 422.6M236.1 427.6L241.3 427.2M248.7 400.6L236.1 410.4M236.1 410.4L237.7 405.5M236.1 410.4L241.3 410.1M248.7 261.1L232.8 262.6M232.8 262.6L236.8 259.3M232.8 262.6L237.4 265.1M248.7 243.3L241.2 257.4M241.2 257.4L240.6 252.2M241.2 257.4L245.8 255.0M248.7 225.4L241.2 239.5M241.2 239.5L240.7 234.3M241.2 239.5L245.8 237.1M265.6 570.5L256.0 583.2M256.0 583.2L256.3 578.0M256.0 583.2L261.0 581.6M265.6 553.5L256.0 566.3M256.0 566.3L256.3 561.1M256.0 566.3L261.0 564.7M265.6 536.6L256.0 549.4M256.0 549.4L256.3 544.2M256.0 549.4L261.0 547.8M265.6 519.7L256.0 532.5M256.0 532.5L256.3 527.3M256.0 532.5L261.0 530.8M265.6 485.8L254.4 497.2M254.4 497.2L255.3 492.1M254.4 497.2L259.5 496.2M265.6 468.9L254.4 480.2M254.4 480.2L255.3 475.1M254.4 480.2L259.5 479.2M265.6 451.9L254.4 463.2M254.4 463.2L255.3 458.1M254.4 463.2L259.5 462.2M265.6 434.8L254.3 446.1M254.3 446.1L255.3 441.0M254.3 446.1L259.5 445.2M265.6 417.7L253.1 427.6M253.1 427.6L254.6 422.6M253.1 427.6L258.3 427.3M265.6 400.6L254.1 411.7M254.1 411.7L255.2 406.6M254.1 411.7L259.3 410.8M265.6 278.8L251.3 285.8M251.3 285.8L253.8 281.3M251.3 285.8L256.4 286.6M265.6 261.1L249.7 262.6M249.7 262.6L253.7 259.3M249.7 262.6L254.3 265.1M265.6 243.3L258.1 257.4M258.1 257.4L257.5 252.2M258.1 257.4L262.7 255.0M265.6 225.4L258.1 239.5M258.1 239.5L257.6 234.3M258.1 239.5L262.7 237.1M265.6 207.3L258.1 221.5M258.1 221.5L257.6 216.3M258.1 221.5L262.7 219.0M282.5 570.5L276.0 585.1M276.0 585.1L275.1 579.9M276.0 585.1L280.5 582.3M282.5 553.5L276.0 568.2M276.0 568.2L275.1 563.0M276.0 568.2L280.5 565.4M282.5 536.6L276.0 551.3M276.0 551.3L275.1 546.1M276.0 551.3L280.5 548.5M282.5 519.7L276.0 534.3M276.0 534.3L275.1 529.2M276.0 534.3L280.5 531.6M282.5 502.8L276.0 517.4M276.0 517.4L275.1 512.3M276.0 517.4L280.5 514.7M282.5 485.8L275.3 500.1M275.3 500.1L274.6 494.9M275.3 500.1L279.8 497.6M282.5 468.9L275.3 483.1M275.3 483.1L274.6 478.0M275.3 483.1L279.8 480.6M282.5 451.9L275.3 466.1M275.3 466.1L274.6 460.9M275.3 466.1L279.8 463.6M282.5 434.8L275.3 449.0M275.3 449.0L274.6 443.9M275.3 449.0L279.8 446.6M282.5 417.7L272.3 430.0M272.3 430.0L272.8 424.8M272.3 430.0L277.3 428.6M282.5 400.6L272.3 412.8M272.3 412.8L272.8 407.7M272.3 412.8L277.3 411.4M282.5 383.4L272.3 395.7M272.3 395.7L272.8 390.5M272.3 395.7L277.3 394.3M282.5 314.0L270.3 324.3M270.3 324.3L271.7 319.3M270.3 324.3L275.5 323.8M282.5 296.5L268.7 304.5M268.7 304.5L270.9 299.8M268.7 304.5L273.9 304.9M282.5 278.8L268.2 285.8M268.2 285.8L270.7 281.3M268.2 285.8L273.3 286.6M282.5 261.1L266.6 262.6M266.6 262.6L270.6 259.3M266.6 262.6L271.2 265.1M282.5 225.4L275.0 239.5M275.0 239.5L274.5 234.3M275.0 239.5L279.6 237.1M282.5 207.3L275.0 221.4M275.0 221.4L274.5 216.3M275.0 221.4L279.6 219.0M299.4 536.6L292.9 551.3M292.9 551.3L292.0 546.1M292.9 551.3L297.4 548.5M299.4 519.7L292.9 534.3M292.9 534.3L292.0 529.2M292.9 534.3L297.4 531.6M299.4 502.8L292.9 517.4M292.9 517.4L292.0 512.3M292.9 517.4L297.4 514.7M299.4 485.8L292.2 500.1M292.2 500.1L291.5 494.9M292.2 500.1L296.8 497.6M299.4 468.9L292.2 483.1M292.2 483.1L291.5 478.0M292.2 483.1L296.7 480.6M299.4 451.9L292.2 466.1M292.2 466.1L291.5 461.0M292.2 466.1L296.7 463.6M299.4 434.8L292.2 449.1M292.2 449.1L291.5 443.9M292.2 449.1L296.7 446.6M299.4 417.7L292.9 432.3M292.9 432.3L292.0 427.2M292.9 432.3L297.4 429.6M299.4 400.6L292.9 415.2M292.9 415.2L292.0 410.1M292.9 415.2L297.3 412.5M299.4 383.4L290.3 396.5M290.3 396.5L290.3 391.3M290.3 396.5L295.1 394.7M299.4 366.2L289.2 378.4M289.2 378.4L289.7 373.2M289.2 378.4L294.2 377.0M299.4 348.8L289.2 361.1M289.2 361.1L289.7 355.9M289.2 361.1L294.2 359.7M299.4 331.5L289.2 343.7M289.2 343.7L289.7 338.5M289.2 343.7L294.2 342.3M299.4 314.0L287.2 324.3M287.2 324.3L288.6 319.3M287.2 324.3L292.4 323.8M299.4 296.5L285.6 304.5M285.6 304.5L287.8 299.8M285.6 304.5L290.8 304.9M299.4 278.8L285.1 285.9M285.1 285.9L287.6 281.3M285.1 285.9L290.2 286.6M299.4 261.1L283.9 264.9M283.9 264.9L287.4 261.0M283.9 264.9L288.8 266.7M316.3 536.6L309.8 551.3M309.8 551.3L308.9 546.1M309.8 551.3L314.3 548.5M316.3 519.7L309.8 534.3M309.8 534.3L308.9 529.2M309.8 534.3L314.3 531.6M316.3 502.8L309.8 517.4M309.8 517.4L308.9 512.3M309.8 517.4L314.3 514.7M316.3 485.8L309.1 500.1M309.1 500.1L308.4 494.9M309.1 500.1L313.7 497.6M316.3 468.9L309.1 483.1M309.1 483.1L308.4 478.0M309.1 483.1L313.6 480.6M316.3 451.9L309.1 466.1M309.1 466.1L308.4 461.0M309.1 466.1L313.6 463.6M316.3 434.8L309.1 449.1M309.1 449.1L308.4 443.9M309.1 449.1L313.7 446.6M316.3 417.7L309.8 432.3M309.8 432.3L308.9 427.2M309.8 432.3L314.3 429.6M316.3 400.6L309.8 415.2M309.8 415.2L308.9 410.1M309.8 415.2L314.3 412.5M316.3 383.4L307.2 396.5M307.2 396.5L307.2 391.3M307.2 396.5L312.0 394.7M316.3 366.2L306.1 378.4M306.1 378.4L306.6 373.2M306.1 378.4L311.1 377.0M316.3 348.8L306.1 361.1M306.1 361.1L306.6 355.9M306.1 361.1L311.1 359.7M316.3 331.5L306.1 343.7M306.1 343.7L306.6 338.5M306.1 343.7L311.1 342.3M316.3 314.0L304.1 324.3M304.1 324.3L305.5 319.3M304.1 324.3L309.3 323.8M316.3 296.5L302.5 304.5M302.5 304.5L304.7 299.8M302.5 304.5L307.7 304.9M316.3 278.8L303.7 288.7M303.7 288.7L305.3 283.7M303.7 288.7L308.9 288.3M316.3 261.1L302.9 269.8M302.9 269.8L304.9 265.0M302.9 269.8L308.1 269.9M316.3 243.3L302.5 251.3M302.5 251.3L304.7 246.6M302.5 251.3L307.7 251.7M316.3 225.4L301.8 232.1M301.8 232.1L304.5 227.7M301.8 232.1L307.0 233.0M316.3 207.3L300.9 211.5M300.9 211.5L304.3 207.5M300.9 211.5L305.8 213.2M333.2 519.7L326.7 534.3M326.7 534.3L325.8 529.2M326.7 534.3L331.2 531.6M333.2 502.8L326.7 517.4M326.7 517.4L325.8 512.3M326.7 517.4L331.2 514.7M333.2 485.8L326.0 500.1M326.0 500.1L325.3 494.9M326.0 500.1L330.6 497.6M333.2 468.9L326.0 483.1M326.0 483.1L325.3 478.0M326.0 483.1L330.6 480.6M333.2 451.9L326.0 466.1M326.0 466.1L325.3 461.0M326.0 466.1L330.5 463.6M333.2 434.8L326.0 449.1M326.0 449.1L325.3 443.9M326.0 449.1L330.6 446.6M333.2 417.7L326.7 432.3M326.7 432.3L325.8 427.2M326.7 432.3L331.2 429.6M333.2 400.6L326.7 415.2M326.7 415.2L325.8 410.1M326.7 415.2L331.2 412.5M333.2 383.4L324.1 396.5M324.1 396.5L324.1 391.3M324.1 396.5L328.9 394.7M333.2 366.2L323.0 378.4M323.0 378.4L323.5 373.2M323.0 378.4L328.0 377.0M333.2 348.8L323.0 361.1M323.0 361.1L323.5 355.9M323.0 361.1L328.0 359.7M333.2 331.5L323.0 343.7M323.0 343.7L323.5 338.5M323.0 343.7L328.0 342.3M333.2 314.0L321.0 324.3M321.0 324.3L322.4 319.3M321.0 324.3L326.2 323.8M333.2 296.5L319.4 304.5M319.4 304.5L321.6 299.8M319.4 304.5L324.6 304.9M333.2 278.8L320.6 288.7M320.6 288.7L322.2 283.7M320.6 288.7L325.8 288.4M333.2 261.1L319.8 269.8M319.8 269.8L321.8 265.0M319.8 269.8L325.0 270.0M333.2 243.3L319.4 251.3M319.4 251.3L321.6 246.6M319.4 251.3L324.6 251.7M333.2 225.4L318.7 232.1M318.7 232.1L321.4 227.7M318.7 232.1L323.9 233.0M333.2 207.3L317.8 211.5M317.8 211.5L321.2 207.5M317.8 211.5L322.7 213.2M350.1 502.8L343.6 517.4M343.6 517.4L342.7 512.3M343.6 517.4L348.1 514.7M350.1 485.8L342.9 500.1M342.9 500.1L342.2 494.9M342.9 500.1L347.5 497.6M350.1 468.9L342.9 483.1M342.9 483.1L342.2 478.0M342.9 483.1L347.4 480.6M350.1 451.9L342.9 466.1M342.9 466.1L342.2 461.0M342.9 466.1L347.4 463.6M350.1 434.8L342.9 449.1M342.9 449.1L342.2 443.9M342.9 449.1L347.5 446.6M350.1 417.7L343.6 432.3M343.6 432.3L342.7 427.2M343.6 432.3L348.1 429.6M350.1 400.6L343.6 415.2M343.6 415.2L342.7 410.1M343.6 415.2L348.1 412.5M350.1 383.4L341.0 396.5M341.0 396.5L341.0 391.3M341.0 396.5L345.8 394.7M350.1 366.2L339.9 378.4M339.9 378.4L340.4 373.2M339.9 378.4L344.9 377.0M350.1 348.8L339.9 361.1M339.9 361.1L340.4 355.9M339.9 361.1L344.9 359.7M350.1 331.5L339.9 343.7M339.9 343.7L340.4 338.5M339.9 343.7L344.9 342.3M350.1 314.0L337.9 324.3M337.9 324.3L339.3 319.3M337.9 324.3L343.1 323.8M350.1 296.5L336.3 304.5M336.3 304.5L338.5 299.8M336.3 304.5L341.5 304.9M350.1 278.8L337.5 288.7M337.5 288.7L339.1 283.7M337.5 288.7L342.7 288.4M350.1 261.1L336.7 269.8M336.7 269.8L338.7 265.0M336.7 269.8L341.9 270.0M350.1 243.3L336.3 251.3M336.3 251.3L338.5 246.6M336.3 251.3L341.5 251.7M350.1 225.4L335.6 232.1M335.6 232.1L338.3 227.7M335.6 232.1L340.8 233.0M350.1 207.3L334.7 211.5M334.7 211.5L338.1 207.5M334.7 211.5L339.6 213.2M350.1 189.2L334.7 193.3M334.7 193.3L338.1 189.4M334.7 193.3L339.6 195.0M367.0 485.8L359.8 500.1M359.8 500.1L359.1 494.9M359.8 500.1L364.3 497.6M367.0 468.9L359.8 483.1M359.8 483.1L359.1 478.0M359.8 483.1L364.3 480.6M367.0 451.9L359.8 466.1M359.8 466.1L359.1 461.0M359.8 466.1L364.3 463.6M367.0 434.8L359.8 449.1M359.8 449.1L359.1 443.9M359.8 449.1L364.4 446.6M367.0 417.7L360.5 432.3M360.5 432.3L359.6 427.2M360.5 432.3L365.0 429.6M367.0 400.6L360.5 415.2M360.5 415.2L359.6 410.1M360.5 415.2L365.0 412.5M367.0 383.4L357.9 396.5M357.9 396.5L357.9 391.3M357.9 396.5L362.7 394.7M367.0 366.2L356.8 378.4M356.8 378.4L357.3 373.2M356.8 378.4L361.8 377.0M367.0 348.8L356.8 361.1M356.8 361.1L357.3 355.9M356.8 361.1L361.8 359.7M367.0 331.5L356.8 343.7M356.8 343.7L357.3 338.5M356.8 343.7L361.8 342.3M367.0 314.0L354.8 324.3M354.8 324.3L356.2 319.3M354.8 324.3L360.0 323.8M367.0 296.5L353.2 304.5M353.2 304.5L355.5 299.8M353.2 304.5L358.4 304.9M367.0 278.8L354.4 288.7M354.4 288.7L356.0 283.7M354.4 288.7L359.6 288.4M367.0 261.1L353.6 269.8M353.6 269.8L355.6 265.0M353.6 269.8L358.8 270.0M367.0 243.3L353.2 251.3M353.2 251.3L355.4 246.6M353.2 251.3L358.4 251.7M367.0 225.4L352.5 232.1M352.5 232.1L355.2 227.7M352.5 232.1L357.7 233.0M367.0 207.3L351.6 211.5M351.6 211.5L355.0 207.5M351.6 211.5L356.5 213.2M367.0 189.2L351.6 193.3M351.6 193.3L355.0 189.4M351.6 193.3L356.5 195.0M383.9 485.8L376.7 500.1M376.7 500.1L376.0 494.9M376.7 500.1L381.2 497.6M383.9 468.9L376.7 483.1M376.7 483.1L376.0 478.0M376.7 483.1L381.2 480.6M383.9 451.9L376.7 466.1M376.7 466.1L376.0 461.0M376.7 466.1L381.2 463.6M383.9 434.8L376.7 449.1M376.7 449.1L376.0 443.9M376.7 449.1L381.3 446.6M383.9 417.7L377.4 432.3M377.4 432.3L376.5 427.2M377.4 432.3L381.9 429.6M383.9 400.6L377.4 415.2M377.4 415.2L376.5 410.1M377.4 415.2L381.9 412.5M383.9 383.4L376.4 397.5M376.4 397.5L375.9 392.4M376.4 397.5L381.0 395.1M383.9 366.2L376.4 380.3M376.4 380.3L375.9 375.1M376.4 380.3L381.0 377.9M383.9 348.8L376.4 363.0M376.4 363.0L375.9 357.8M376.4 363.0L381.0 360.6M383.9 331.5L376.4 345.6M376.4 345.6L375.8 340.4M376.4 345.6L381.0 343.2M383.9 314.0L374.1 326.6M374.1 326.6L374.4 321.4M374.1 326.6L379.0 325.0M383.9 296.5L373.2 308.3M373.2 308.3L373.9 303.2M373.2 308.3L378.3 307.1M383.9 278.8L371.3 288.7M371.3 288.7L372.9 283.7M371.3 288.7L376.5 288.4M383.9 261.1L370.5 269.8M370.5 269.8L372.5 265.0M370.5 269.8L375.7 270.0M383.9 243.3L370.1 251.3M370.1 251.3L372.3 246.6M370.1 251.3L375.3 251.7M383.9 225.4L369.4 232.1M369.4 232.1L372.1 227.7M369.4 232.1L374.6 233.0M383.9 207.3L368.9 212.8M368.9 212.8L371.9 208.6M368.9 212.8L374.0 214.1M383.9 189.2L368.9 194.6M368.9 194.6L371.9 190.4M368.9 194.6L374.0 195.9M400.8 468.9L393.6 483.1M393.6 483.1L392.9 478.0M393.6 483.1L398.1 480.6M400.8 451.9L393.6 466.1M393.6 466.1L392.9 461.0M393.6 466.1L398.1 463.6M400.8 434.8L393.6 449.1M393.6 449.1L392.9 443.9M393.6 449.1L398.1 446.6M400.8 417.7L394.3 432.3M394.3 432.3L393.4 427.2M394.3 432.3L398.8 429.6M400.8 400.6L394.3 415.2M394.3 415.2L393.4 410.1M394.3 415.2L398.8 412.5M400.8 383.4L393.3 397.5M393.3 397.5L392.8 392.4M393.3 397.5L397.9 395.1M400.8 366.2L393.3 380.3M393.3 380.3L392.8 375.1M393.3 380.3L397.9 377.9M400.8 348.8L393.3 363.0M393.3 363.0L392.8 357.8M393.3 363.0L397.9 360.6M400.8 331.5L393.3 345.6M393.3 345.6L392.8 340.4M393.3 345.6L397.9 343.2M400.8 314.0L391.0 326.6M391.0 326.6L391.3 321.4M391.0 326.6L396.0 325.0M400.8 296.5L390.1 308.3M390.1 308.3L390.8 303.2M390.1 308.3L395.2 307.1M400.8 278.8L388.2 288.7M388.2 288.7L389.8 283.7M388.2 288.7L393.4 288.4M400.8 261.1L387.4 269.8M387.4 269.8L389.4 265.0M387.4 269.8L392.6 270.0M400.8 243.3L387.0 251.3M387.0 251.3L389.2 246.6M387.0 251.3L392.2 251.7M400.8 225.4L386.4 232.1M386.4 232.1L389.0 227.7M386.4 232.1L391.5 233.0M400.8 207.3L386.1 213.5M386.1 213.5L388.9 209.1M386.1 213.5L391.2 214.5M400.8 189.2L385.8 194.7M385.8 194.7L388.8 190.4M385.8 194.7L390.9 195.9M417.7 451.9L408.5 464.9M408.5 464.9L408.6 459.7M408.5 464.9L413.4 463.1M417.7 417.7L411.2 432.3M411.2 432.3L410.3 427.2M411.2 432.3L415.7 429.6M417.7 400.6L411.2 415.2M411.2 415.2L410.3 410.1M411.2 415.2L415.7 412.5M417.7 383.4L410.2 397.5M410.2 397.5L409.7 392.4M410.2 397.5L414.8 395.1M417.7 366.2L410.2 380.3M410.2 380.3L409.7 375.1M410.2 380.3L414.8 377.9M417.7 348.8L410.2 363.0M410.2 363.0L409.7 357.8M410.2 363.0L414.8 360.6M417.7 331.5L410.2 345.6M410.2 345.6L409.7 340.4M410.2 345.6L414.8 343.2M417.7 314.0L407.9 326.6M407.9 326.6L408.2 321.4M407.9 326.6L412.9 325.0M417.7 296.5L407.0 308.4M407.0 308.4L407.7 303.2M407.0 308.4L412.1 307.1M417.7 278.8L405.1 288.7M405.1 288.7L406.7 283.7M405.1 288.7L410.3 288.4M417.7 261.1L404.3 269.8M404.3 269.8L406.3 265.0M404.3 269.8L409.5 270.0M417.7 243.3L403.9 251.3M403.9 251.3L406.1 246.6M403.9 251.3L409.1 251.7M417.7 225.4L403.3 232.1M403.3 232.1L405.9 227.7M403.3 232.1L408.4 233.0M417.7 207.3L403.0 213.5M403.0 213.5L405.8 209.1M403.0 213.5L408.1 214.5M417.7 189.2L403.4 196.2M403.4 196.2L405.9 191.7M403.4 196.2L408.5 196.9M417.7 170.9L403.4 177.9M403.4 177.9L405.9 173.4M403.4 177.9L408.5 178.7M434.6 570.5L418.7 571.0M418.7 571.0L422.8 567.9M418.7 571.0L423.1 573.8M434.6 536.6L418.7 537.2M418.7 537.2L422.8 534.1M418.7 537.2L423.1 540.0M434.6 519.7L418.7 520.3M418.7 520.3L422.8 517.2M418.7 520.3L423.1 523.1M434.6 502.8L418.7 503.4M418.7 503.4L422.8 500.3M418.7 503.4L423.1 506.1M434.6 468.9L419.2 473.1M419.2 473.1L422.6 469.1M419.2 473.1L424.1 474.8M434.6 451.9L420.1 458.6M420.1 458.6L422.8 454.1M420.1 458.6L425.3 459.4M434.6 434.8L422.2 444.8M422.2 444.8L423.7 439.9M422.2 444.8L427.4 444.4M434.6 400.6L428.1 415.2M428.1 415.2L427.2 410.1M428.1 415.2L432.5 412.5M434.6 383.4L427.1 397.5M427.1 397.5L426.5 392.3M427.1 397.5L431.7 395.1M434.6 366.2L427.1 380.3M427.1 380.3L426.5 375.1M427.1 380.3L431.7 377.9M434.6 348.8L427.1 363.0M427.1 363.0L426.6 357.8M427.1 363.0L431.7 360.6M434.6 331.5L427.1 345.6M427.1 345.6L426.6 340.4M427.1 345.6L431.7 343.2M434.6 314.0L424.8 326.6M424.8 326.6L425.1 321.4M424.8 326.6L429.8 325.0M434.6 296.5L423.9 308.4M423.9 308.4L424.6 303.2M423.9 308.4L429.0 307.1M434.6 278.8L422.0 288.7M422.0 288.7L423.6 283.7M422.0 288.7L427.2 288.4M434.6 261.1L421.2 269.8M421.2 269.8L423.2 265.0M421.2 269.8L426.4 270.0M434.6 243.3L420.8 251.3M420.8 251.3L423.0 246.6M420.8 251.3L426.0 251.7M434.6 225.4L420.2 232.1M420.2 232.1L422.8 227.7M420.2 232.1L425.3 233.0M434.6 207.3L419.9 213.5M419.9 213.5L422.7 209.1M419.9 213.5L425.0 214.5M434.6 189.2L421.7 198.6M421.7 198.6L423.4 193.7M421.7 198.6L426.9 198.4M434.6 170.9L424.8 183.4M424.8 183.4L425.1 178.3M424.8 183.4L429.7 181.9M434.6 152.4L423.7 164.1M423.7 164.1L424.5 159.0M423.7 164.1L428.8 163.0M451.5 570.5L435.6 571.0M435.6 571.0L439.7 567.9M435.6 571.0L440.0 573.8M451.5 553.5L435.6 554.1M435.6 554.1L439.7 551.0M435.6 554.1L440.0 556.9M451.5 536.6L435.6 537.2M435.6 537.2L439.7 534.1M435.6 537.2L440.0 540.0M451.5 519.7L435.6 520.3M435.6 520.3L439.7 517.2M435.6 520.3L440.0 523.1M451.5 502.8L435.6 503.4M435.6 503.4L439.7 500.3M435.6 503.4L440.0 506.1M451.5 485.8L435.6 486.4M435.6 486.4L439.7 483.3M435.6 486.4L440.0 489.2M451.5 468.9L436.3 473.8M436.3 473.8L439.5 469.7M436.3 473.8L441.3 475.3M451.5 451.9L436.3 456.8M436.3 456.8L439.5 452.7M436.3 456.8L441.3 458.3M451.5 434.8L436.3 439.8M436.3 439.8L439.5 435.6M436.3 439.8L441.3 441.2M451.5 417.7L436.3 422.7M436.3 422.7L439.5 418.6M436.3 422.7L441.3 424.2M451.5 383.4L439.8 394.3M439.8 394.3L441.0 389.2M439.8 394.3L445.0 393.5M451.5 366.2L439.9 377.1M439.9 377.1L441.0 372.0M439.9 377.1L445.0 376.3M451.5 348.8L445.5 363.7M445.5 363.7L444.4 358.6M445.5 363.7L449.8 360.8M451.5 331.5L445.5 346.3M445.5 346.3L444.4 341.2M445.5 346.3L449.9 343.4M451.5 314.0L441.7 326.6M441.7 326.6L442.0 321.4M441.7 326.6L446.7 325.0M451.5 296.5L440.8 308.4M440.8 308.4L441.5 303.2M440.8 308.4L445.9 307.1M451.5 278.8L438.9 288.7M438.9 288.7L440.5 283.7M438.9 288.7L444.1 288.4M451.5 261.1L438.1 269.8M438.1 269.8L440.1 265.0M438.1 269.8L443.3 270.0M451.5 243.3L437.7 251.3M437.7 251.3L439.9 246.6M437.7 251.3L442.9 251.7M451.5 225.4L437.1 232.1M437.1 232.1L439.7 227.7M437.1 232.1L442.2 233.0M451.5 207.3L436.8 213.5M436.8 213.5L439.6 209.1M436.8 213.5L441.9 214.5M451.5 189.2L438.5 198.5M438.5 198.5L440.3 193.6M438.5 198.5L443.7 198.4M451.5 170.9L442.5 184.0M442.5 184.0L442.5 178.8M442.5 184.0L447.3 182.2M451.5 152.4L441.3 164.7M441.3 164.7L441.8 159.5M441.3 164.7L446.3 163.3M451.5 133.9L441.3 146.1M441.3 146.1L441.8 141.0M441.3 146.1L446.3 144.7M468.4 553.5L452.5 554.1M452.5 554.1L456.6 551.0M452.5 554.1L456.9 556.9M468.4 536.6L452.5 537.2M452.5 537.2L456.6 534.1M452.5 537.2L456.9 540.0M468.4 519.7L452.5 520.3M452.5 520.3L456.6 517.2M452.5 520.3L456.9 523.1M468.4 502.8L452.5 503.4M452.5 503.4L456.6 500.3M452.5 503.4L456.9 506.1M468.4 485.8L452.5 486.4M452.5 486.4L456.6 483.3M452.5 486.4L456.9 489.2M468.4 468.9L453.2 473.8M453.2 473.8L456.4 469.7M453.2 473.8L458.2 475.3M468.4 451.9L453.3 457.1M453.3 457.1L456.4 452.9M453.3 457.1L458.3 458.4M468.4 434.8L453.3 440.0M453.3 440.0L456.4 435.8M453.3 440.0L458.3 441.4M468.4 417.7L453.3 422.9M453.3 422.9L456.4 418.8M453.3 422.9L458.3 424.3M468.4 400.6L453.2 405.5M453.2 405.5L456.4 401.4M453.2 405.5L458.2 407.0M468.4 383.4L453.2 388.4M453.2 388.4L456.4 384.3M453.2 388.4L458.2 389.8M468.4 348.8L455.4 358.1M455.4 358.1L457.2 353.3M455.4 358.1L460.6 358.0M468.4 331.5L456.7 342.3M456.7 342.3L457.8 337.2M456.7 342.3L461.8 341.5M468.4 314.0L457.3 325.5M457.3 325.5L458.2 320.4M457.3 325.5L462.4 324.5M468.4 278.8L456.0 288.9M456.0 288.9L457.5 283.9M456.0 288.9L461.2 288.5M468.4 261.1L455.1 270.0M455.1 270.0L457.1 265.2M455.1 270.0L460.3 270.1M468.4 243.3L454.6 251.3M454.6 251.3L456.8 246.6M454.6 251.3L459.8 251.7M468.4 225.4L454.0 232.2M454.0 232.2L456.6 227.7M454.0 232.2L459.1 233.0M468.4 207.3L453.7 213.5M453.7 213.5L456.5 209.1M453.7 213.5L458.8 214.5M468.4 189.2L455.3 198.2M455.3 198.2L457.1 193.4M455.3 198.2L460.5 198.2M468.4 170.9L458.7 183.6M458.7 183.6L459.0 178.4M458.7 183.6L463.6 181.9M468.4 152.4L458.2 164.7M458.2 164.7L458.7 159.5M458.2 164.7L463.2 163.3M468.4 133.9L459.0 146.8M459.0 146.8L459.2 141.6M459.0 146.8L463.9 145.1M468.4 115.1L459.6 128.5M459.6 128.5L459.5 123.3M459.6 128.5L464.4 126.5M485.3 570.5L469.4 571.0M469.4 571.0L473.5 567.9M469.4 571.0L473.8 573.8M485.3 536.6L469.4 537.2M469.4 537.2L473.5 534.1M469.4 537.2L473.8 540.0M485.3 519.7L469.4 520.3M469.4 520.3L473.5 517.2M469.4 520.3L473.8 523.1M485.3 502.8L469.4 503.4M469.4 503.4L473.5 500.3M469.4 503.4L473.8 506.1M485.3 485.8L469.4 486.4M469.4 486.4L473.5 483.3M469.4 486.4L473.8 489.2M485.3 468.9L470.1 473.8M470.1 473.8L473.3 469.7M470.1 473.8L475.1 475.3M485.3 451.9L470.2 457.1M470.2 457.1L473.3 452.9M470.2 457.1L475.2 458.4M485.3 434.8L470.2 440.0M470.2 440.0L473.3 435.8M470.2 440.0L475.2 441.4M485.3 417.7L470.2 422.9M470.2 422.9L473.3 418.8M470.2 422.9L475.2 424.3M485.3 400.6L470.1 405.5M470.1 405.5L473.3 401.4M470.1 405.5L475.1 407.0M485.3 383.4L470.1 388.4M470.1 388.4L473.3 384.2M470.1 388.4L475.1 389.8M485.3 366.2L470.2 371.4M470.2 371.4L473.3 367.2M470.2 371.4L475.2 372.7M485.3 243.3L473.1 253.6M473.1 253.6L474.5 248.6M473.1 253.6L478.3 253.1M485.3 225.4L474.0 236.7M474.0 236.7L475.0 231.6M474.0 236.7L479.1 235.7M485.3 207.3L474.0 218.6M474.0 218.6L475.0 213.5M474.0 218.6L479.1 217.7M485.3 189.2L475.0 201.4M475.0 201.4L475.6 196.2M475.0 201.4L480.1 200.0M485.3 133.9L477.3 147.7M477.3 147.7L476.9 142.5M477.3 147.7L482.0 145.5M485.3 115.1L476.4 128.4M476.4 128.4L476.4 123.2M476.4 128.4L481.2 126.5M485.3 96.3L477.8 110.3M477.8 110.3L477.2 105.2M477.8 110.3L482.4 108.0M485.3 77.2L479.7 92.2M479.7 92.2L478.5 87.1M479.7 92.2L484.0 89.2M502.2 570.5L486.3 571.0M486.3 571.0L490.4 567.9M486.3 571.0L490.7 573.8M502.2 536.6L486.3 537.2M486.3 537.2L490.4 534.1M486.3 537.2L490.7 540.0M502.2 519.7L486.3 520.3M486.3 520.3L490.4 517.2M486.3 520.3L490.7 523.1M502.2 502.8L486.3 503.4M486.3 503.4L490.4 500.3M486.3 503.4L490.7 506.1M502.2 485.8L486.3 486.4M486.3 486.4L490.4 483.3M486.3 486.4L490.7 489.2M502.2 468.9L487.0 473.8M487.0 473.8L490.2 469.6M487.0 473.8L492.0 475.2M502.2 434.8L487.1 440.0M487.1 440.0L490.2 435.8M487.1 440.0L492.1 441.4M502.2 417.7L487.1 422.9M487.1 422.9L490.2 418.8M487.1 422.9L492.1 424.3M502.2 400.6L487.0 405.5M487.0 405.5L490.2 401.4M487.0 405.5L492.0 407.0M502.2 348.8L487.2 354.3M487.2 354.3L490.2 350.1M487.2 354.3L492.3 355.6M502.2 314.0L489.1 323.2M489.1 323.2L491.0 318.3M489.1 323.2L494.3 323.1M502.2 296.5L489.6 306.3M489.6 306.3L491.2 301.4M489.6 306.3L494.8 306.0M502.2 243.3L490.9 254.6M490.9 254.6L491.9 249.5M490.9 254.6L496.0 253.7M502.2 225.4L492.0 237.6M492.0 237.6L492.5 232.4M492.0 237.6L497.0 236.2M502.2 207.3L492.0 219.6M492.0 219.6L492.5 214.4M492.0 219.6L497.0 218.2M502.2 189.2L493.1 202.3M493.1 202.3L493.1 197.1M493.1 202.3L497.9 200.4M502.2 170.9L493.1 184.0M493.1 184.0L493.1 178.8M493.1 184.0L497.9 182.1M502.2 152.4L493.1 165.5M493.1 165.5L493.1 160.3M493.1 165.5L497.9 163.7M502.2 133.9L494.2 147.7M494.2 147.7L493.8 142.5M494.2 147.7L498.9 145.5M502.2 115.1L493.3 128.4M493.3 128.4L493.3 123.2M493.3 128.4L498.1 126.5M502.2 96.3L495.5 110.8M495.5 110.8L494.6 105.6M495.5 110.8L500.0 108.1M502.2 77.2L496.0 91.9M496.0 91.9L495.0 86.8M496.0 91.9L500.4 89.1M502.2 58.0L498.1 73.4M498.1 73.4L496.4 68.5M498.1 73.4L502.1 70.0M519.1 570.5L503.2 571.0M503.2 571.0L507.3 567.9M503.2 571.0L507.6 573.8M519.1 553.5L503.2 554.1M503.2 554.1L507.3 551.0M503.2 554.1L507.6 556.9M519.1 536.6L503.2 537.2M503.2 537.2L507.3 534.1M503.2 537.2L507.6 540.0M519.1 519.7L503.2 520.3M503.2 520.3L507.3 517.2M503.2 520.3L507.6 523.1M519.1 502.8L503.2 503.4M503.2 503.4L507.3 500.3M503.2 503.4L507.6 506.1M519.1 485.8L503.2 486.4M503.2 486.4L507.3 483.3M503.2 486.4L507.6 489.2M519.1 468.9L503.2 467.6M503.2 467.6L507.7 465.0M503.2 467.6L507.2 470.9M519.1 451.9L503.2 451.5M503.2 451.5L507.5 448.7M503.2 451.5L507.4 454.5M519.1 417.7L504.0 422.9M504.0 422.9L507.1 418.8M504.0 422.9L509.0 424.3M519.1 383.4L503.9 388.3M503.9 388.3L507.1 384.2M503.9 388.3L508.9 389.8M519.1 366.2L504.0 371.4M504.0 371.4L507.1 367.2M504.0 371.4L509.0 372.7M519.1 348.8L504.1 354.3M504.1 354.3L507.1 350.1M504.1 354.3L509.2 355.6M519.1 314.0L506.0 323.2M506.0 323.2L507.9 318.3M506.0 323.2L511.2 323.1M519.1 296.5L506.5 306.3M506.5 306.3L508.1 301.4M506.5 306.3L511.7 306.0M519.1 278.8L508.9 291.1M508.9 291.1L509.4 285.9M508.9 291.1L513.9 289.7M519.1 261.1L507.8 272.4M507.8 272.4L508.8 267.3M507.8 272.4L513.0 271.5M519.1 243.3L507.8 254.6M507.8 254.6L508.8 249.5M507.8 254.6L513.0 253.7M519.1 225.4L508.9 237.6M508.9 237.6L509.4 232.4M508.9 237.6L513.9 236.2M519.1 207.3L508.9 219.6M508.9 219.6L509.4 214.4M508.9 219.6L513.9 218.2M519.1 189.2L510.0 202.3M510.0 202.3L510.0 197.1M510.0 202.3L514.8 200.4M519.1 170.9L510.0 184.0M510.0 184.0L510.0 178.8M510.0 184.0L514.8 182.1M519.1 152.4L510.0 165.6M510.0 165.6L510.0 160.4M510.0 165.6L514.8 163.7M519.1 133.9L511.2 147.7M511.2 147.7L510.8 142.5M511.2 147.7L515.8 145.5M519.1 115.1L510.2 128.4M510.2 128.4L510.2 123.2M510.2 128.4L515.1 126.5M519.1 96.3L512.4 110.8M512.4 110.8L511.5 105.6M512.4 110.8L516.9 108.1M519.1 77.2L512.9 91.9M512.9 91.9L511.9 86.9M512.9 91.9L517.3 89.1M519.1 58.0L515.9 73.6M515.9 73.6L513.9 68.8M515.9 73.6L519.6 70.0M519.1 38.6L528.3 51.7M528.3 51.7L523.4 49.8M528.3 51.7L528.2 46.5M536.0 570.5L520.1 571.0M520.1 571.0L524.2 568.0M520.1 571.0L524.5 573.8M536.0 553.5L520.1 554.2M520.1 554.2L524.2 551.1M520.1 554.2L524.5 556.9M536.0 536.6L520.1 537.2M520.1 537.2L524.2 534.1M520.1 537.2L524.5 540.0M536.0 519.7L520.1 520.3M520.1 520.3L524.2 517.2M520.1 520.3L524.5 523.1M536.0 502.8L520.1 503.4M520.1 503.4L524.2 500.3M520.1 503.4L524.5 506.2M536.0 485.8L520.1 486.4M520.1 486.4L524.2 483.3M520.1 486.4L524.4 489.2M536.0 468.9L524.4 457.9M524.4 457.9L529.5 458.7M524.4 457.9L525.5 463.0M536.0 451.9L521.0 457.2M521.0 457.2L524.0 453.0M521.0 457.2L526.0 458.6M536.0 417.7L521.0 423.2M521.0 423.2L524.0 419.0M521.0 423.2L526.1 424.5M536.0 400.6L520.9 405.9M520.9 405.9L524.0 401.7M520.9 405.9L526.0 407.2M536.0 383.4L521.0 388.8M521.0 388.8L524.0 384.6M521.0 388.8L526.0 390.1M536.0 331.5L521.7 338.5M521.7 338.5L524.2 334.0M521.7 338.5L526.8 339.2M536.0 314.0L522.9 323.2M522.9 323.2L524.8 318.3M522.9 323.2L528.1 323.1M536.0 296.5L523.5 306.3M523.5 306.3L525.0 301.4M523.5 306.3L528.6 306.0M536.0 278.8L525.8 291.1M525.8 291.1L526.3 285.9M525.8 291.1L530.8 289.7M536.0 261.1L524.7 272.4M524.7 272.4L525.7 267.3M524.7 272.4L529.9 271.5M536.0 243.3L524.8 254.6M524.8 254.6L525.7 249.5M524.8 254.6L529.9 253.7M536.0 225.4L525.8 237.6M525.8 237.6L526.3 232.5M525.8 237.6L530.8 236.2M536.0 207.3L525.8 219.6M525.8 219.6L526.3 214.4M525.8 219.6L530.8 218.2M536.0 189.2L526.9 202.3M526.9 202.3L526.9 197.1M526.9 202.3L531.8 200.4M536.0 170.9L526.9 184.0M526.9 184.0L526.9 178.8M526.9 184.0L531.8 182.2M536.0 152.4L526.9 165.6M526.9 165.6L526.9 160.4M526.9 165.6L531.8 163.7M536.0 133.9L530.6 148.9M530.6 148.9L529.3 143.9M530.6 148.9L534.8 145.9M536.0 115.1L530.6 130.2M530.6 130.2L529.3 125.1M530.6 130.2L534.8 127.2M536.0 96.3L531.6 111.6M531.6 111.6L530.0 106.7M531.6 111.6L535.6 108.3M536.0 77.2L533.8 93.1M533.8 93.1L531.5 88.4M533.8 93.1L537.3 89.2M536.0 58.0L537.2 73.9M537.2 73.9L533.9 69.9M537.2 73.9L539.8 69.4M536.0 38.6L546.7 50.5M546.7 50.5L541.7 49.2M546.7 50.5L546.0 45.3M552.9 570.5L541.6 581.7M541.6 581.7L542.6 576.6M541.6 581.7L546.7 580.8M552.9 553.5L541.6 564.8M541.6 564.8L542.6 559.7M541.6 564.8L546.7 563.9M552.9 536.6L541.6 547.9M541.6 547.9L542.6 542.8M541.6 547.9L546.7 547.0M552.9 519.7L537.5 523.9M537.5 523.9L540.9 519.9M537.5 523.9L542.4 525.6M552.9 502.8L537.5 506.9M537.5 506.9L540.9 503.0M537.5 506.9L542.4 508.7M552.9 485.8L537.5 490.0M537.5 490.0L540.9 486.0M537.5 490.0L542.4 491.7M552.9 417.7L537.9 423.2M537.9 423.2L540.9 419.0M537.9 423.2L543.0 424.5M552.9 400.6L537.9 406.1M537.9 406.1L540.9 401.8M537.9 406.1L543.0 407.4M552.9 348.8L538.6 355.9M538.6 355.9L541.1 351.3M538.6 355.9L543.7 356.6M552.9 331.5L539.4 339.9M539.4 339.9L541.5 335.2M539.4 339.9L544.6 340.2M552.9 314.0L539.9 323.2M539.9 323.2L541.7 318.3M539.9 323.2L545.1 323.1M552.9 296.5L542.2 308.3M542.2 308.3L542.9 303.2M542.2 308.3L547.3 307.1M552.9 278.8L542.7 291.1M542.7 291.1L543.2 285.9M542.7 291.1L547.7 289.7M552.9 261.1L544.9 275.0M544.9 275.0L544.5 269.8M544.9 275.0L549.6 272.7M552.9 243.3L544.9 257.1M544.9 257.1L544.5 252.0M544.9 257.1L549.6 254.9M552.9 225.4L546.2 239.9M546.2 239.9L545.3 234.7M546.2 239.9L550.7 237.2M552.9 207.3L546.2 221.8M546.2 221.8L545.3 216.7M546.2 221.8L550.7 219.2M552.9 189.2L548.8 204.6M548.8 204.6L547.1 199.7M548.8 204.6L552.7 201.2M552.9 170.9L548.8 186.3M548.8 186.3L547.1 181.4M548.8 186.3L552.7 182.9M552.9 152.4L548.8 167.9M548.8 167.9L547.1 163.0M548.8 167.9L552.7 164.5M552.9 133.9L549.1 149.4M549.1 149.4L547.3 144.5M549.1 149.4L553.0 145.9M552.9 115.1L549.9 130.8M549.9 130.8L547.8 126.1M549.9 130.8L553.6 127.2M552.9 96.3L549.6 111.9M549.6 111.9L547.7 107.1M549.6 111.9L553.4 108.3M552.9 77.2L553.5 93.2M553.5 93.2L550.4 89.0M553.5 93.2L556.3 88.8M552.9 58.0L555.7 73.7M555.7 73.7L552.1 70.0M555.7 73.7L557.9 69.0M552.9 38.6L563.6 50.5M563.6 50.5L558.6 49.2M563.6 50.5L562.9 45.3M569.8 570.5L558.5 581.8M558.5 581.8L559.5 576.6M558.5 581.8L563.6 580.8M569.8 553.5L558.5 564.9M558.5 564.9L559.5 559.7M558.5 564.9L563.6 563.9M569.8 536.6L558.5 547.9M558.5 547.9L559.5 542.8M558.5 547.9L563.6 547.0M569.8 519.7L554.4 523.9M554.4 523.9L557.8 519.9M554.4 523.9L559.3 525.6M569.8 502.8L554.4 506.9M554.4 506.9L557.8 503.0M554.4 506.9L559.3 508.7M569.8 485.8L554.4 490.0M554.4 490.0L557.8 486.0M554.4 490.0L559.3 491.7M569.8 468.9L554.9 474.6M554.9 474.6L557.9 470.3M554.9 474.6L560.0 475.8M569.8 451.9L554.9 457.6M554.9 457.6L557.9 453.3M554.9 457.6L560.0 458.8M569.8 400.6L554.8 406.1M554.8 406.1L557.8 401.8M554.8 406.1L559.9 407.3M569.8 383.4L554.6 388.3M554.6 388.3L557.8 384.2M554.6 388.3L559.6 389.8M569.8 366.2L555.0 372.1M555.0 372.1L557.9 367.8M555.0 372.1L560.1 373.3M569.8 348.8L555.5 355.9M555.5 355.9L558.0 351.3M555.5 355.9L560.6 356.6M569.8 331.5L556.3 340.0M556.3 340.0L558.4 335.2M556.3 340.0L561.5 340.2M569.8 314.0L559.1 325.9M559.1 325.9L559.8 320.7M559.1 325.9L564.2 324.7M569.8 296.5L559.1 308.4M559.1 308.4L559.8 303.2M559.1 308.4L564.2 307.1M569.8 278.8L559.6 291.1M559.6 291.1L560.1 285.9M559.6 291.1L564.6 289.7M569.8 261.1L561.8 275.0M561.8 275.0L561.4 269.8M561.8 275.0L566.5 272.7M569.8 243.3L561.9 257.2M561.9 257.2L561.5 252.0M561.9 257.2L566.5 254.9M569.8 225.4L565.7 240.8M565.7 240.8L564.0 235.9M565.7 240.8L569.6 237.4M569.8 207.3L565.7 222.8M565.7 222.8L564.0 217.9M565.7 222.8L569.7 219.4M569.8 189.2L568.2 205.1M568.2 205.1L565.7 200.5M568.2 205.1L571.5 201.1M569.8 170.9L568.2 186.8M568.2 186.8L565.7 182.2M568.2 186.8L571.5 182.8M569.8 152.4L568.2 168.4M568.2 168.4L565.7 163.8M568.2 168.4L571.5 164.4M569.8 133.9L568.2 149.8M568.2 149.8L565.7 145.2M568.2 149.8L571.5 145.8M569.8 115.1L566.8 130.9M566.8 130.9L564.7 126.1M566.8 130.9L570.5 127.2M569.8 96.3L567.6 112.1M567.6 112.1L565.3 107.4M567.6 112.1L571.1 108.3M569.8 77.2L570.4 93.2M570.4 93.2L567.3 89.0M570.4 93.2L573.2 88.8M569.8 58.0L575.6 72.9M575.6 72.9L571.3 70.0M575.6 72.9L576.8 67.9M569.8 38.6L580.5 50.5M580.5 50.5L575.5 49.2M580.5 50.5L579.9 45.3M586.8 570.5L575.4 581.7M575.4 581.7L576.4 576.6M575.4 581.7L580.5 580.8M586.8 553.5L575.4 564.8M575.4 564.8L576.4 559.7M575.4 564.8L580.5 563.9M586.8 536.6L575.4 547.9M575.4 547.9L576.4 542.8M575.4 547.9L580.5 547.0M586.8 519.7L571.3 523.9M571.3 523.9L574.7 519.9M571.3 523.9L576.2 525.6M586.8 502.8L571.3 506.9M571.3 506.9L574.7 503.0M571.3 506.9L576.2 508.7M586.8 485.8L571.3 490.0M571.3 490.0L574.7 486.0M571.3 490.0L576.2 491.7M586.8 468.9L571.8 474.6M571.8 474.6L574.8 470.3M571.8 474.6L576.9 475.8M586.8 451.9L571.8 457.6M571.8 457.6L574.8 453.3M571.8 457.6L576.9 458.8M586.8 434.8L571.8 440.5M571.8 440.5L574.8 436.3M571.8 440.5L576.9 441.7M586.8 417.7L571.8 423.5M571.8 423.5L574.8 419.2M571.8 423.5L576.9 424.7M586.8 400.6L571.7 406.1M571.7 406.1L574.7 401.8M571.7 406.1L576.8 407.3M586.8 383.4L571.5 388.4M571.5 388.4L574.7 384.2M571.5 388.4L576.5 389.8M586.8 366.2L571.9 372.2M571.9 372.2L574.8 367.8M571.9 372.2L577.0 373.3M586.8 348.8L573.3 357.5M573.3 357.5L575.3 352.7M573.3 357.5L578.5 357.7M586.8 331.5L574.9 342.2M574.9 342.2L576.1 337.1M574.9 342.2L580.0 341.5M586.8 314.0L576.0 325.9M576.0 325.9L576.7 320.7M576.0 325.9L581.1 324.7M586.8 296.5L576.0 308.4M576.0 308.4L576.7 303.2M576.0 308.4L581.1 307.1M586.8 278.8L576.5 291.1M576.5 291.1L577.0 285.9M576.5 291.1L581.5 289.7M586.8 261.1L578.7 275.0M578.7 275.0L578.3 269.8M578.7 275.0L583.4 272.7M586.8 243.3L578.8 257.2M578.8 257.2L578.4 252.0M578.8 257.2L583.4 254.9M586.8 225.4L582.6 240.8M582.6 240.8L580.9 235.9M582.6 240.8L586.5 237.4M586.8 207.3L582.6 222.8M582.6 222.8L580.9 217.9M582.6 222.8L586.6 219.4M586.8 189.2L585.1 205.1M585.1 205.1L582.6 200.5M585.1 205.1L588.4 201.1M586.8 170.9L585.1 186.8M585.1 186.8L582.6 182.2M585.1 186.8L588.4 182.8M586.8 152.4L585.1 168.4M585.1 168.4L582.6 163.8M585.1 168.4L588.4 164.4M586.8 133.9L585.1 149.8M585.1 149.8L582.6 145.2M585.1 149.8L588.4 145.8M586.8 115.1L584.5 131.0M584.5 131.0L582.2 126.3M584.5 131.0L588.0 127.1M586.8 96.3L585.6 112.2M585.6 112.2L583.0 107.7M585.6 112.2L588.9 108.1M586.8 77.2L587.3 93.2M587.3 93.2L584.2 89.0M587.3 93.2L590.1 88.8M586.8 58.0L593.7 72.4M593.7 72.4L589.2 69.8M593.7 72.4L594.5 67.2M586.8 38.6L597.4 50.5M597.4 50.5L592.4 49.2M597.4 50.5L596.8 45.3M603.6 536.6L587.8 538.9M587.8 538.9L591.6 535.4M587.8 538.9L592.5 541.2M603.6 519.7L588.2 523.9M588.2 523.9L591.6 519.9M588.2 523.9L593.1 525.6M603.6 502.8L588.2 506.9M588.2 506.9L591.6 503.0M588.2 506.9L593.1 508.7M603.6 485.8L588.2 490.0M588.2 490.0L591.6 486.0M588.2 490.0L593.1 491.7M603.6 468.9L588.7 474.6M588.7 474.6L591.7 470.3M588.7 474.6L593.8 475.8M603.6 451.9L588.7 457.6M588.7 457.6L591.7 453.3M588.7 457.6L593.8 458.8M603.6 434.8L588.7 440.5M588.7 440.5L591.7 436.3M588.7 440.5L593.8 441.7M603.6 417.7L588.7 423.5M588.7 423.5L591.7 419.2M588.7 423.5L593.8 424.7M603.6 400.6L588.6 406.1M588.6 406.1L591.6 401.8M588.6 406.1L593.7 407.3M603.6 383.4L588.4 388.4M588.4 388.4L591.6 384.2M588.4 388.4L593.4 389.8M603.6 366.2L588.8 372.2M588.8 372.2L591.7 367.8M588.8 372.2L593.9 373.3M603.6 348.8L590.2 357.6M590.2 357.6L592.2 352.8M590.2 357.6L595.4 357.7M603.6 331.5L591.8 342.2M591.8 342.2L593.0 337.1M591.8 342.2L596.9 341.5M603.6 314.0L592.9 325.9M592.9 325.9L593.6 320.7M592.9 325.9L598.0 324.7M603.6 296.5L593.0 308.4M593.0 308.4L593.6 303.2M593.0 308.4L598.0 307.1M603.6 278.8L593.4 291.1M593.4 291.1L593.9 285.9M593.4 291.1L598.4 289.7M603.6 261.1L595.6 275.0M595.6 275.0L595.2 269.8M595.6 275.0L600.3 272.7M603.6 243.3L595.7 257.2M595.7 257.2L595.3 252.0M595.7 257.2L600.3 254.9M603.6 225.4L599.5 240.8M599.5 240.8L597.8 235.9M599.5 240.8L603.4 237.4M603.6 207.3L599.5 222.8M599.5 222.8L597.8 217.9M599.5 222.8L603.5 219.4M603.6 189.2L602.0 205.1M602.0 205.1L599.5 200.5M602.0 205.1L605.3 201.1M603.6 170.9L602.0 186.8M602.0 186.8L599.5 182.2M602.0 186.8L605.3 182.8M603.6 152.4L602.0 168.4M602.0 168.4L599.5 163.8M602.0 168.4L605.3 164.4M603.6 133.9L602.0 149.8M602.0 149.8L599.5 145.2M602.0 149.8L605.3 145.8M603.6 115.1L598.2 130.2M598.2 130.2L596.9 125.2M598.2 130.2L602.4 127.2M603.6 77.2L605.9 93.0M605.9 93.0L602.4 89.2M605.9 93.0L608.2 88.4M603.6 58.0L610.7 72.4M610.7 72.4L606.1 69.8M610.7 72.4L611.4 67.2M603.6 38.6L614.3 50.5M614.3 50.5L609.3 49.2M614.3 50.5L613.7 45.3M620.5 570.5L604.7 572.7M604.7 572.7L608.5 569.2M604.7 572.7L609.4 575.0M620.5 553.5L604.7 555.8M604.7 555.8L608.5 552.3M604.7 555.8L609.4 558.1M620.5 536.6L604.7 538.9M604.7 538.9L608.5 535.4M604.7 538.9L609.4 541.2M620.5 519.7L605.1 523.9M605.1 523.9L608.5 519.9M605.1 523.9L610.0 525.6M620.5 502.8L605.1 506.9M605.1 506.9L608.5 503.0M605.1 506.9L610.0 508.7M620.5 485.8L605.1 490.0M605.1 490.0L608.5 486.0M605.1 490.0L610.0 491.7M620.5 468.9L605.6 474.6M605.6 474.6L608.6 470.3M605.6 474.6L610.7 475.8M620.5 451.9L605.6 457.6M605.6 457.6L608.6 453.3M605.6 457.6L610.7 458.8M620.5 434.8L605.6 440.5M605.6 440.5L608.6 436.3M605.6 440.5L610.7 441.7M620.5 417.7L605.6 423.5M605.6 423.5L608.6 419.2M605.6 423.5L610.7 424.7M620.5 400.6L605.5 406.1M605.5 406.1L608.5 401.8M605.5 406.1L610.6 407.3M620.5 383.4L605.3 388.4M605.3 388.4L608.5 384.2M605.3 388.4L610.3 389.8M620.5 366.2L605.7 372.2M605.7 372.2L608.6 367.8M605.7 372.2L610.8 373.3M620.5 348.8L607.1 357.6M607.1 357.6L609.1 352.8M607.1 357.6L612.3 357.7M620.5 331.5L608.7 342.2M608.7 342.2L609.9 337.1M608.7 342.2L613.8 341.5M620.5 314.0L609.8 325.9M609.8 325.9L610.5 320.7M609.8 325.9L614.9 324.7M620.5 296.5L612.0 310.0M612.0 310.0L611.8 304.8M612.0 310.0L616.8 307.9M620.5 278.8L610.3 291.1M610.3 291.1L610.8 285.9M610.3 291.1L615.3 289.7M620.5 261.1L612.5 275.0M612.5 275.0L612.1 269.8M612.5 275.0L617.2 272.7M620.5 243.3L612.6 257.2M612.6 257.2L612.2 252.0M612.6 257.2L617.2 254.9M620.5 225.4L616.4 240.8M616.4 240.8L614.7 235.9M616.4 240.8L620.3 237.4M620.5 207.3L616.4 222.8M616.4 222.8L614.7 217.9M616.4 222.8L620.4 219.4M620.5 189.2L618.9 205.1M618.9 205.1L616.4 200.5M618.9 205.1L622.2 201.1M620.5 170.9L618.9 186.8M618.9 186.8L616.4 182.2M618.9 186.8L622.2 182.8M620.5 152.4L618.9 168.4M618.9 168.4L616.4 163.8M618.9 168.4L622.2 164.4M620.5 133.9L618.9 149.8M618.9 149.8L616.4 145.2M618.9 149.8L622.2 145.8M620.5 115.1L618.3 131.0M618.3 131.0L616.0 126.3M618.3 131.0L621.8 127.1M620.5 96.3L620.8 112.3M620.8 112.3L617.8 108.0M620.8 112.3L623.7 107.9M620.5 77.2L623.9 92.9M623.9 92.9L620.1 89.3M623.9 92.9L625.9 88.0M620.5 58.0L627.6 72.4M627.6 72.4L623.0 69.8M627.6 72.4L628.3 67.2M620.5 38.6L631.2 50.5M631.2 50.5L626.2 49.2M631.2 50.5L630.6 45.3M637.4 570.5L621.6 572.7M621.6 572.7L625.4 569.2M621.6 572.7L626.3 575.0M637.4 553.5L621.6 555.8M621.6 555.8L625.4 552.3M621.6 555.8L626.3 558.1M637.4 536.6L621.6 538.9M621.6 538.9L625.4 535.4M621.6 538.9L626.3 541.2M637.4 519.7L622.0 523.9M622.0 523.9L625.4 519.9M622.0 523.9L626.9 525.6M637.4 502.8L622.0 506.9M622.0 506.9L625.4 503.0M622.0 506.9L626.9 508.7M637.4 485.8L622.0 490.0M622.0 490.0L625.4 486.0M622.0 490.0L626.9 491.7M637.4 468.9L622.5 474.6M622.5 474.6L625.5 470.3M622.5 474.6L627.6 475.8M637.4 451.9L622.5 457.6M622.5 457.6L625.5 453.3M622.5 457.6L627.6 458.8M637.4 434.8L622.5 440.5M622.5 440.5L625.5 436.3M622.5 440.5L627.6 441.7M637.4 417.7L622.5 423.5M622.5 423.5L625.5 419.2M622.5 423.5L627.6 424.7M637.4 400.6L622.4 406.1M622.4 406.1L625.4 401.8M622.4 406.1L627.5 407.3M637.4 383.4L622.2 388.3M622.2 388.3L625.4 384.2M622.2 388.3L627.2 389.8M637.4 366.2L622.6 372.2M622.6 372.2L625.5 367.8M622.6 372.2L627.7 373.3M637.4 348.8L624.0 357.6M624.0 357.6L626.0 352.8M624.0 357.6L629.2 357.7M637.4 331.5L625.6 342.2M625.6 342.2L626.8 337.1M625.6 342.2L630.7 341.5M637.4 314.0L626.7 325.9M626.7 325.9L627.4 320.7M626.7 325.9L631.8 324.7M637.4 296.5L629.0 310.0M629.0 310.0L628.7 304.8M629.0 310.0L633.7 307.9M637.4 278.8L627.2 291.1M627.2 291.1L627.7 285.9M627.2 291.1L632.2 289.7M637.4 261.1L629.4 275.0M629.4 275.0L629.0 269.8M629.4 275.0L634.1 272.7M637.4 243.3L629.5 257.2M629.5 257.2L629.1 252.0M629.5 257.2L634.1 254.9M637.4 225.4L633.3 240.8M633.3 240.8L631.6 235.9M633.3 240.8L637.2 237.4M637.4 207.3L633.3 222.8M633.3 222.8L631.6 217.9M633.3 222.8L637.3 219.4M637.4 189.2L635.8 205.1M635.8 205.1L633.3 200.5M635.8 205.1L639.1 201.1M637.4 170.9L635.8 186.8M635.8 186.8L633.3 182.2M635.8 186.8L639.1 182.8M637.4 152.4L635.8 168.4M635.8 168.4L633.3 163.8M635.8 168.4L639.1 164.4M637.4 133.9L635.8 149.8M635.8 149.8L633.3 145.2M635.8 149.8L639.1 145.8M637.4 115.1L635.2 131.0M635.2 131.0L632.9 126.3M635.2 131.0L638.7 127.1M637.4 96.3L637.7 112.3M637.7 112.3L634.7 108.0M637.7 112.3L640.6 107.9M637.4 77.2L640.8 92.9M640.8 92.9L637.0 89.3M640.8 92.9L642.8 88.0M637.4 58.0L644.5 72.4M644.5 72.4L639.9 69.8M644.5 72.4L645.2 67.2M637.4 38.6L648.1 50.5M648.1 50.5L643.1 49.2M648.1 50.5L647.5 45.3" stroke="#000080" stroke-width="1" fill="none" shape-rendering="crispEdges"/>
<path d="M596.6 564.9L596.6 565.1L597.6 572.1L597.7 572.3L598.0 572.5L605.0 572.5L605.3 572.3L605.4 571.9L604.5 566.1L605.6 563.5L608.9 564.4L612.8 566.0L618.4 568.4L618.9 568.3L621.3 566.3L621.4 566.0L621.3 565.7L617.3 562.3L617.2 562.2L612.3 559.0L609.2 556.8L610.4 554.3L614.3 550.9L618.3 547.8L618.4 547.3L617.4 543.3L617.3 543.1L617.0 543.0L613.0 542.6L612.8 542.6L608.0 544.5L605.4 543.7L604.4 537.9L604.1 537.6L598.1 535.6L597.8 535.6L597.6 535.8L595.6 539.8L595.6 539.8L593.6 544.8L593.6 544.9L592.6 550.9L592.6 551.2L594.6 555.6L594.6 555.7L597.5 559.5zM613.4 525.8L613.0 525.5L609.0 525.5L608.6 525.8L606.6 529.8L606.6 530.1L607.6 534.1L607.8 534.4L610.8 536.4L611.2 536.4L614.2 534.4L614.4 534.1L615.4 529.1L615.4 528.8zM581.3 493.6L581.1 493.7L581.0 494.0L580.6 500.0L580.6 500.1L581.4 506.1L581.6 506.4L582.0 506.4L584.2 505.4L584.4 505.1L585.4 499.1L585.4 498.9L584.6 493.3L584.5 493.0L584.1 493.0zM502.4 447.3L501.6 448.8L501.6 448.9L500.6 451.9L500.7 452.3L502.7 454.3L503.0 454.4L503.3 454.3L506.3 451.3L506.4 451.2L508.4 446.3L511.3 443.4L515.1 441.4L519.2 440.6L519.4 440.8L519.8 440.8L520.3 440.5L523.9 441.4L524.2 441.4L532.0 437.5L534.7 439.3L537.6 444.2L539.5 448.0L535.6 455.8L535.6 456.1L536.6 461.1L536.6 461.3L539.6 465.3L539.8 465.4L544.8 468.4L544.8 468.4L549.8 470.4L549.9 470.4L553.9 471.4L554.2 471.4L556.7 469.7L557.6 474.1L557.7 474.3L559.7 476.3L560.0 476.4L560.4 476.3L563.4 472.3L563.4 472.2L565.4 467.2L565.4 466.9L564.4 461.9L564.4 461.7L561.5 457.9L562.4 452.2L565.2 447.5L567.7 448.4L569.6 452.2L571.6 458.1L572.6 463.1L572.8 463.4L573.1 463.4L573.4 463.2L575.4 458.2L575.4 458.1L576.4 452.2L579.4 448.3L579.4 448.1L580.4 442.1L580.4 441.9L574.5 424.0L575.4 418.1L575.4 417.9L573.4 411.9L573.4 411.8L570.4 406.8L570.3 406.7L567.3 403.7L567.2 403.6L564.2 401.6L563.9 401.6L563.6 401.7L561.0 405.3L560.8 404.9L560.5 404.7L560.1 404.8L559.9 405.1L559.4 409.1L558.9 413.1L558.5 416.9L556.2 417.8L553.9 418.3L551.4 417.8L551.0 418.0L549.5 420.0L549.4 420.2L548.9 423.0L547.4 424.6L546.0 424.6L544.9 424.3L544.6 424.4L542.1 425.4L542.0 425.5L537.5 430.0L535.2 431.8L534.4 431.4L533.6 430.9L533.2 428.2L532.7 425.2L532.5 424.9L530.5 423.4L530.3 423.3L527.3 422.8L527.0 422.9L525.0 423.8L522.0 424.8L521.9 424.9L519.4 426.4L519.2 426.6L518.2 429.1L518.2 429.5L518.4 429.7L518.6 429.8L518.6 429.9L517.7 432.4L516.7 432.8L512.9 433.6L512.8 433.6L510.7 434.4L508.0 434.9L507.8 434.9L505.3 436.5L505.1 436.7L504.1 439.2L504.1 439.3L503.6 442.3L502.6 445.3L502.1 446.8L502.2 447.2zM561.0 513.1L561.2 513.4L561.6 513.4L564.4 512.4L564.6 512.2L564.6 511.9L563.8 507.3L563.7 507.1L563.4 506.9L560.2 506.9L559.9 507.1L559.8 507.5zM555.0 377.5L555.1 377.7L558.1 380.2L558.3 380.3L561.3 380.8L561.6 380.8L561.8 380.6L563.3 377.5L563.3 377.2L561.8 373.2L560.8 369.3L561.3 365.3L561.3 365.1L559.8 361.1L559.8 361.0L557.8 357.0L557.5 356.8L553.5 355.3L553.3 355.3L547.3 356.3L541.2 356.8L540.9 356.9L540.8 357.2L541.0 357.5L547.0 363.6L549.9 367.5L551.9 371.5zM492.0 561.4L500.0 561.1L508.0 561.4L514.5 562.4L514.5 563.0L514.7 563.3L514.9 563.4L526.9 565.4L527.1 565.4L533.1 563.4L539.1 562.4L539.2 562.4L544.2 560.4L544.3 560.3L548.3 556.3L548.4 556.3L551.4 552.3L551.4 552.2L553.4 548.3L556.3 545.3L556.4 544.9L555.4 541.9L555.1 541.6L552.1 540.6L551.8 540.6L547.8 542.6L547.6 542.8L545.6 545.8L545.6 545.8L543.6 549.7L539.8 552.6L534.9 554.6L527.9 555.6L521.0 556.2L515.5 556.5L515.5 555.0L515.4 554.7L515.1 554.6L508.1 552.6L502.1 550.6L502.1 550.6L490.1 548.6L485.1 547.6L484.8 547.6L480.8 549.6L480.7 549.7L476.7 553.6L471.8 555.6L471.7 555.7L467.7 559.7L467.6 559.8L465.6 564.8L465.6 565.1L466.6 572.1L466.7 572.3L467.0 572.5L471.0 572.5L471.4 572.2L474.3 565.3L478.1 563.4L484.1 562.4zM545.4 384.8L545.5 384.8L547.5 386.8L548.9 389.2L549.4 392.1L549.4 395.1L549.4 395.3L550.4 397.8L550.6 398.0L552.6 399.0L553.0 399.0L555.1 398.0L555.3 397.8L556.3 395.3L556.3 395.0L555.8 392.0L555.8 391.9L554.8 388.9L554.3 386.0L554.3 385.9L553.6 384.0L555.1 384.8L555.5 384.8L555.8 384.6L555.8 384.2L553.8 380.2L553.7 380.0L551.7 378.0L551.5 377.9L548.6 376.5L546.7 375.1L545.7 372.2L545.4 371.9L543.4 371.4L542.9 371.5L540.9 374.0L540.8 374.3L540.3 377.3L540.3 377.4L541.0 380.5L541.2 380.7L541.6 380.8L543.0 380.5L543.9 382.7L543.9 382.8zM546.2 416.0L546.2 416.1L546.6 416.2L549.6 415.9L549.9 415.7L550.0 415.4L549.8 413.2L549.6 412.9L549.3 412.8L548.0 412.8L546.0 412.8L545.7 413.0L545.6 413.3L545.8 415.6L546.0 415.9zM544.0 406.1L544.2 405.9L545.7 403.9L545.7 403.6L545.2 401.0L545.1 400.8L543.1 398.8L543.0 398.7L540.4 397.7L540.0 397.7L537.5 399.2L535.0 400.7L534.9 400.9L533.4 402.9L533.3 403.0L532.8 405.0L532.8 405.3L533.0 405.5L535.0 406.7L535.2 406.8L538.2 407.4L538.3 407.4L541.3 407.4L541.5 407.4zM492.9 307.1L493.3 303.7L495.4 300.2L495.4 299.9L495.3 299.6L495.0 299.6L495.4 298.1L497.4 296.1L500.2 294.7L503.1 293.3L503.2 293.2L505.3 291.0L505.4 290.9L506.8 288.1L508.3 285.2L508.3 285.2L509.7 281.6L511.1 278.8L511.1 278.4L510.4 276.3L510.3 276.1L508.2 274.0L506.1 270.6L505.4 266.4L505.4 266.3L504.7 262.9L505.4 259.5L507.1 257.4L507.2 257.2L507.6 253.6L507.6 253.4L506.6 250.6L506.3 250.3L506.0 250.3L504.1 251.0L503.9 251.2L501.8 253.9L499.2 255.2L496.6 254.6L493.8 253.2L491.0 251.1L490.9 251.0L488.1 249.6L487.7 249.6L485.7 250.2L483.7 249.6L483.4 249.6L480.5 251.0L480.4 251.1L478.3 253.3L478.2 253.4L476.7 257.0L476.7 257.1L476.0 262.1L475.3 266.4L475.3 266.5L476.0 270.7L475.7 275.0L475.3 279.2L473.8 287.8L473.1 291.3L472.0 293.0L469.5 291.8L467.4 290.3L467.0 290.3L464.9 291.0L464.6 291.2L464.6 291.5L464.8 295.0L464.8 295.1L465.7 299.4L465.9 299.7L466.7 300.3L468.1 305.8L469.6 311.5L469.6 311.6L471.0 315.9L471.1 316.0L473.3 318.2L473.3 318.2L476.1 320.3L477.5 323.1L477.7 323.3L478.0 323.3L478.2 323.1L478.3 322.8L477.6 318.7L478.6 317.7L481.1 319.6L483.2 321.7L483.8 324.0L481.2 325.3L481.1 325.4L479.0 327.5L478.8 327.9L479.6 331.5L479.8 331.8L482.7 333.3L485.5 334.7L489.1 336.8L489.4 336.9L492.5 336.2L492.7 336.1L495.2 334.0L497.9 332.6L500.5 334.0L502.3 335.3L502.6 337.1L502.7 337.4L507.7 341.4L507.8 341.4L510.0 342.7L510.2 343.0L510.7 344.3L511.0 344.6L511.3 344.5L511.6 344.4L511.8 344.6L512.1 344.7L512.4 344.7L512.6 344.4L512.7 344.2L514.8 345.4L514.8 345.4L522.8 348.4L528.8 351.4L532.7 354.4L532.9 354.4L534.5 354.8L534.8 355.4L535.1 355.6L535.4 355.6L536.1 355.4L536.7 355.2L537.9 355.4L538.2 355.4L538.4 355.2L540.4 350.2L540.4 349.9L539.4 342.9L539.4 342.8L537.2 338.4L539.6 339.0L540.1 338.9L542.1 336.4L542.2 336.1L542.5 332.6L542.4 332.3L540.1 329.8L539.7 329.6L536.7 330.1L536.4 330.2L536.3 330.5L535.8 334.0L535.8 334.2L536.6 337.2L536.4 336.8L536.3 336.6L535.0 335.6L535.4 335.5L535.7 335.2L535.6 334.8L535.3 334.6L534.0 334.5L535.4 332.4L535.4 332.1L535.3 331.8L535.0 331.7L532.1 331.7L532.1 331.7L530.2 332.1L523.2 328.6L523.2 328.6L518.2 326.7L515.2 325.0L514.9 325.0L512.9 325.3L506.0 324.6L505.6 324.8L503.6 327.8L499.6 325.8L498.2 324.0L496.9 321.3L496.2 317.8L495.4 314.2L495.4 314.1L494.0 310.6zM523.0 365.5L523.1 365.4L523.9 363.1L525.7 364.4L529.7 367.4L529.8 367.4L533.8 369.4L534.1 369.4L535.1 369.1L536.6 369.7L536.9 369.7L537.1 369.5L537.2 369.2L537.0 368.6L537.5 368.4L537.8 368.2L537.8 367.9L536.4 363.9L536.3 363.7L532.3 359.7L532.2 359.6L528.2 357.2L528.0 357.2L525.2 357.4L524.8 357.3L524.5 357.3L524.4 357.4L523.0 357.6L522.7 357.7L522.5 358.0L522.5 360.7L521.7 363.1L521.7 363.2L521.2 366.7L521.3 367.1L521.7 367.2L522.0 367.0zM527.3 397.3L527.3 397.4L525.6 400.4L525.6 400.5L524.5 404.0L524.5 404.1L523.9 408.1L524.0 408.3L524.8 410.3L525.0 410.6L525.3 410.6L525.6 410.4L526.6 408.4L526.6 408.3L527.6 404.3L528.6 401.3L530.6 398.4L532.6 395.3L534.6 392.3L534.7 392.2L536.2 388.2L536.2 388.1L536.5 384.1L536.4 383.7L535.1 382.2L534.8 382.1L534.5 382.1L534.3 382.4L533.6 384.9L533.6 384.9L532.8 388.4L531.3 391.9L529.3 394.8zM527.5 415.7L527.6 415.8L527.7 416.1L528.0 416.2L530.9 415.9L531.2 415.7L531.3 415.3L530.9 413.1L530.7 412.8L530.4 412.8L529.2 412.8L527.4 412.8L527.1 413.0L527.0 413.3L527.3 415.3L527.4 415.6zM512.5 401.2L512.4 401.2L509.9 402.2L509.7 402.5L508.7 405.0L508.7 405.4L510.7 407.9L510.8 408.0L513.3 410.0L515.8 412.0L517.2 414.4L518.8 417.0L519.0 417.1L519.3 417.1L520.8 416.6L521.0 416.5L523.0 413.4L523.1 413.3L524.1 410.3L524.1 410.0L522.1 404.1L522.6 401.3L524.1 398.3L526.1 395.3L526.1 395.3L527.6 392.3L527.6 392.1L528.1 388.6L528.1 388.4L527.1 385.4L526.9 385.1L523.9 383.6L523.6 383.6L520.1 384.1L519.7 384.4L518.7 387.4L518.7 387.5L518.2 391.0L518.2 391.0L517.7 395.0L517.2 397.9L515.4 400.2zM501.6 385.0L500.6 392.0L500.7 392.3L500.9 392.5L502.4 393.0L502.7 393.0L502.9 392.8L504.8 390.0L507.2 389.5L510.2 389.0L510.3 389.0L510.6 388.8L510.4 390.8L510.6 391.2L511.8 392.4L512.1 392.5L512.4 392.4L514.0 390.9L514.2 390.5L513.8 388.0L513.6 387.7L513.2 387.6L515.4 385.9L515.4 385.9L518.0 383.3L518.0 383.2L519.5 380.3L521.0 378.7L521.1 378.3L520.6 375.7L520.3 375.4L517.8 374.4L517.6 374.4L513.2 374.4L509.3 372.9L505.3 369.9L505.2 369.9L501.7 368.4L501.4 368.4L501.1 368.6L501.1 369.0L503.1 373.5L504.1 377.4L503.7 381.0L502.9 379.8L502.6 379.6L502.3 379.6L502.1 380.0zM510.2 360.6L510.5 360.9L513.1 361.2L513.5 361.0L514.5 359.5L514.6 359.2L514.4 358.9L512.9 357.4L512.5 357.3L509.5 357.8L509.2 358.0L509.2 358.4zM505.3 460.8L505.6 460.6L505.6 460.3L504.8 456.9L504.7 456.6L504.4 456.6L500.0 456.6L499.6 456.7L499.6 457.1L500.6 461.5L500.8 461.8L501.1 461.8zM505.0 358.3L505.0 358.2L504.5 354.1L504.3 353.8L503.9 353.8L501.9 354.3L501.7 354.4L501.6 354.7L501.4 358.2L501.4 358.3L501.8 362.3L501.4 366.7L501.5 367.0L501.7 367.2L502.9 367.7L503.3 367.7L503.5 367.4L504.5 363.4L504.5 363.3zM502.4 339.3L502.0 339.2L499.4 339.7L499.2 339.8L499.1 340.1L498.8 342.6L498.8 342.8L500.1 345.4L500.3 345.6L500.6 345.6L503.1 345.1L503.4 345.0L503.5 344.7L504.0 341.7L503.9 341.4zM124.2 446.4L126.6 451.2L126.6 451.3L130.6 456.3L133.6 460.2L134.6 467.1L135.6 475.1L135.6 475.1L137.6 483.1L137.6 483.2L140.6 491.1L141.6 497.1L141.6 497.2L147.6 509.2L147.6 509.2L151.6 515.2L153.6 520.2L153.7 520.3L157.7 524.3L157.7 524.4L162.7 528.4L162.8 528.4L168.8 532.4L168.8 532.4L174.8 535.4L186.8 543.4L186.8 543.4L192.8 546.4L193.1 546.4L199.1 545.4L199.1 545.4L202.1 544.4L202.4 544.2L202.4 543.9L201.4 540.9L201.4 540.8L199.4 535.8L199.4 535.8L196.4 529.8L196.4 529.8L192.4 523.8L189.4 516.9L187.5 509.0L187.8 501.0L189.0 493.1L189.0 493.0L189.0 492.0L189.0 491.9L187.4 485.9L187.4 485.8L184.4 479.8L184.4 479.8L180.4 473.8L180.3 473.7L176.3 469.7L176.2 469.6L171.2 466.6L165.3 462.7L157.3 454.7L157.1 454.6L151.1 453.6L145.2 451.6L140.4 448.7L138.4 443.9L137.4 436.9L137.4 436.9L135.4 429.9L135.4 429.8L132.4 423.8L130.4 417.9L129.4 409.9L129.3 409.6L128.9 409.6L124.9 410.6L120.2 411.5L117.5 405.9L117.5 403.1L119.4 396.1L125.4 376.1L129.4 366.2L129.4 366.1L130.4 358.1L130.4 357.9L129.5 350.0L130.4 343.3L133.2 341.4L140.0 339.5L146.4 341.3L144.6 345.8L141.6 349.7L141.6 350.0L141.6 350.3L144.6 354.3L144.9 354.4L152.9 355.4L153.1 355.4L158.9 354.5L164.7 357.4L168.7 361.3L168.7 361.4L172.6 364.3L174.6 370.1L174.7 370.4L179.6 374.3L181.6 380.1L181.6 380.2L184.6 385.2L184.9 385.4L185.3 385.4L189.2 382.4L191.7 381.6L192.5 385.9L190.6 389.8L190.6 390.2L190.9 390.4L196.9 391.4L197.3 391.3L197.7 390.9L198.6 395.1L198.7 395.4L202.7 398.4L202.9 398.4L208.9 399.4L213.5 400.4L212.2 407.9L210.6 415.9L210.6 416.1L211.6 423.1L211.7 423.3L214.3 425.9L214.6 426.0L214.9 425.9L219.3 422.3L219.3 422.3L225.3 416.3L225.4 416.0L225.4 415.3L237.2 409.4L237.3 409.3L241.3 405.3L241.4 405.2L244.4 399.2L244.4 399.2L246.4 394.2L246.4 394.1L246.6 395.1L246.8 395.4L247.2 395.4L251.2 393.4L257.1 391.4L257.2 391.4L264.2 388.4L264.2 388.4L278.2 380.4L278.3 380.4L283.3 376.4L283.4 376.1L287.4 364.2L289.8 358.2L289.8 358.0L290.4 351.0L290.4 350.9L289.0 343.9L287.8 335.9L287.8 335.9L286.4 327.9L286.4 327.9L284.4 319.9L284.4 319.9L282.4 312.9L282.4 312.8L280.4 307.8L280.4 307.7L272.4 297.7L272.3 297.7L267.3 292.7L267.2 292.6L259.3 287.6L247.4 275.8L245.4 269.9L245.3 269.7L241.4 265.7L237.4 259.4L237.3 259.3L233.3 254.7L233.3 254.7L230.3 251.7L227.4 247.8L226.5 243.0L229.0 236.2L229.0 236.0L229.4 230.1L231.3 225.9L234.2 224.4L234.4 224.2L237.4 219.3L240.4 215.3L240.4 215.2L242.4 212.2L242.4 212.1L243.3 207.6L246.9 208.4L247.2 208.4L252.2 206.4L255.1 205.4L255.4 205.2L257.3 201.4L261.1 200.4L261.2 200.4L264.2 198.4L268.1 197.4L268.2 197.4L272.2 194.8L275.9 192.6L278.7 195.3L279.1 195.4L282.8 194.9L284.6 197.3L284.9 197.4L288.9 198.4L289.3 198.3L292.1 195.5L295.7 197.3L297.5 200.0L295.6 202.8L295.6 203.1L296.9 207.1L296.6 211.0L296.6 211.1L297.6 216.1L297.7 216.3L300.7 219.3L300.9 219.4L304.9 220.4L305.1 220.4L309.1 219.4L309.4 219.2L309.4 218.8L307.8 214.8L307.8 214.7L305.4 211.8L304.5 209.0L305.4 205.1L305.4 205.1L306.2 201.7L307.6 204.2L307.9 204.4L308.3 204.4L311.3 202.0L315.2 199.4L323.1 197.4L327.1 196.8L327.4 196.7L329.2 194.1L332.9 195.4L333.2 195.4L336.2 193.4L339.2 192.0L339.4 191.9L340.1 190.8L343.8 192.7L344.2 192.7L347.2 191.7L347.2 191.6L349.3 190.6L349.4 190.5L350.9 188.5L351.0 188.3L351.5 185.3L351.5 185.1L350.5 182.1L350.1 179.5L351.8 178.8L352.7 181.3L352.8 181.5L354.8 183.5L356.8 185.5L357.2 185.7L359.7 185.1L360.0 184.9L360.0 184.5L359.1 182.1L358.1 174.1L358.0 173.9L356.6 171.1L356.9 169.2L358.8 170.0L360.2 172.8L361.7 176.3L362.7 179.3L363.1 179.6L366.1 180.1L366.3 180.1L370.3 179.1L370.3 179.1L374.4 177.6L374.5 177.5L377.3 175.1L379.1 175.6L382.1 177.1L382.5 177.0L384.5 175.5L387.4 174.1L390.2 174.6L394.2 176.1L394.5 176.1L398.5 174.6L402.5 173.6L402.5 173.6L406.6 172.1L406.7 172.0L409.7 169.5L409.9 169.2L410.2 167.7L418.3 160.4L418.4 160.0L418.2 159.7L420.2 158.4L420.3 158.4L428.3 152.4L428.3 152.3L434.3 146.3L440.3 141.3L440.3 141.3L446.3 135.3L446.3 135.3L456.3 123.3L461.3 118.3L461.4 118.1L463.4 112.2L466.4 106.2L466.4 106.2L469.4 99.2L474.4 92.3L480.3 85.3L480.4 85.2L483.4 78.3L488.3 73.4L494.2 70.4L494.4 70.2L498.4 62.2L498.4 61.9L496.5 56.0L498.4 50.2L501.4 45.2L501.4 45.1L503.4 38.1L503.4 38.0L503.4 36.0L503.3 35.7L503.0 35.5L111.0 35.5L110.7 35.7L110.5 36.0L110.5 435.0L110.7 435.3L111.0 435.4L112.8 435.4L116.7 438.3L120.6 443.3L120.7 443.3L123.7 446.3L124.0 446.4zM409.8 165.1L409.3 167.2L408.8 167.7L409.4 165.3zM500.3 234.8L500.4 235.1L500.8 235.2L502.5 234.9L502.8 234.7L502.9 234.4L502.6 232.4L502.4 232.1L502.1 232.0L500.4 232.0L500.1 232.1L500.0 232.5zM471.2 155.8L471.2 155.9L470.0 161.9L470.0 162.0L470.6 169.0L470.6 169.1L472.6 175.1L472.6 175.2L478.6 185.2L480.6 189.8L480.8 190.0L481.1 190.0L483.7 189.4L483.9 189.3L484.0 189.0L484.4 184.1L486.4 178.2L490.4 172.2L490.4 172.2L493.4 166.2L493.4 166.1L495.4 158.1L495.4 158.1L496.4 150.4L498.0 150.4L498.3 150.4L498.4 150.1L500.4 142.1L500.4 142.0L501.4 133.0L501.3 132.7L498.3 129.7L498.1 129.6L494.5 128.6L494.2 128.6L490.8 130.6L490.6 130.7L485.6 137.7L485.6 137.8L481.7 144.7L473.8 149.6L473.6 149.8zM491.4 235.7L491.1 235.8L491.0 236.1L491.0 238.4L491.1 238.7L491.3 238.9L493.2 239.4L493.6 239.4L495.0 238.2L495.2 238.0L495.1 237.7L494.3 235.7L494.1 235.5L493.8 235.4zM484.6 358.7L484.6 358.8L486.8 361.7L487.0 361.9L489.1 362.6L489.4 362.6L489.6 362.4L491.8 359.6L491.8 359.5L493.3 355.9L493.3 355.8L494.0 351.5L494.0 351.4L493.3 347.1L493.2 346.9L491.1 344.0L490.9 343.9L487.4 341.8L487.3 341.7L483.0 340.3L482.9 340.3L478.6 339.6L478.4 339.6L474.8 341.0L474.6 341.2L474.6 341.5L474.7 341.7L476.8 343.9L479.6 346.7L481.7 350.9L483.1 355.1L483.2 355.2zM438.9 409.0L432.2 413.8L432.1 413.8L426.7 418.5L426.6 418.6L422.6 424.0L418.5 429.4L418.5 429.5L416.4 434.3L416.4 434.6L417.1 437.3L417.3 437.6L417.7 437.6L419.7 436.9L420.0 436.6L422.0 431.3L426.0 426.0L431.4 421.3L436.7 417.2L442.1 413.8L442.2 413.8L447.0 408.3L447.0 408.3L450.4 402.9L455.8 397.5L461.2 393.5L461.3 393.3L462.9 389.2L463.0 389.1L463.4 385.7L463.3 385.4L463.0 385.2L458.2 384.6L457.9 384.7L456.5 386.0L456.5 386.1L452.4 391.5L452.4 391.5L448.3 398.3L444.3 403.7zM436.1 557.4L442.0 556.5L448.0 556.5L448.2 556.4L451.2 554.4L451.4 554.0L451.3 553.6L447.3 550.7L435.3 538.7L432.6 535.0L434.4 532.2L434.4 531.8L432.4 526.8L432.4 526.7L429.4 522.8L427.5 519.0L430.4 515.3L430.4 514.9L430.3 514.6L422.9 509.1L426.2 507.4L426.2 507.4L429.2 505.4L429.4 505.2L431.4 501.2L431.4 500.9L430.6 496.6L434.9 497.4L435.1 497.4L441.1 496.4L441.2 496.4L446.2 494.4L446.4 494.2L446.4 493.8L446.2 493.6L438.7 489.8L440.3 487.4L446.1 486.4L451.0 486.0L451.1 486.0L455.7 484.4L456.0 484.1L456.4 481.1L456.4 480.8L456.2 480.6L452.2 478.6L452.1 478.6L448.2 477.6L444.3 473.7L444.2 473.6L439.3 471.6L437.4 468.8L437.2 468.6L436.9 468.6L433.1 469.5L430.4 466.8L429.4 461.9L429.3 461.6L425.3 458.7L422.4 454.7L422.3 454.7L420.3 452.3L420.1 452.2L419.8 452.2L419.6 452.4L417.9 456.2L416.3 454.7L414.3 452.3L414.1 452.2L413.8 452.2L413.6 452.4L412.0 455.8L408.6 460.7L396.7 475.6L391.8 477.6L391.7 477.6L387.7 480.6L387.6 480.8L384.7 485.6L380.4 487.3L380.4 486.6L380.3 486.3L380.1 486.2L379.8 486.2L371.8 491.0L366.9 492.6L366.7 492.7L360.7 498.7L360.6 498.8L358.2 502.8L358.2 502.9L356.6 507.8L353.7 511.7L349.7 515.0L344.8 517.6L339.9 519.0L333.9 520.6L328.9 521.6L328.9 521.6L323.9 523.0L323.7 523.1L321.1 525.7L321.0 526.0L320.6 530.9L319.6 536.9L317.6 541.7L313.9 543.5L309.1 542.6L305.2 540.6L304.9 540.6L300.9 541.2L297.1 541.5L294.3 539.7L292.4 536.4L292.1 536.2L291.8 536.2L288.8 537.6L288.6 537.7L285.6 541.7L285.6 541.8L283.6 546.8L283.6 546.9L281.6 558.9L281.6 559.1L282.6 565.1L282.6 565.1L284.6 572.1L284.7 572.4L285.0 572.5L426.0 572.5L426.3 572.3L426.4 572.1L427.4 565.1L429.4 561.3L432.2 558.4zM416.8 450.0L417.0 450.4L419.4 451.4L419.7 451.4L419.9 451.3L421.9 449.3L422.0 449.1L422.0 448.8L420.8 446.2L420.6 446.0L420.3 446.0L416.9 446.6L416.6 446.7L416.6 447.0zM282.8 254.0L282.9 254.0L287.9 255.4L293.9 257.4L294.2 257.4L299.6 254.4L299.6 254.4L304.2 251.4L304.3 251.4L308.3 248.4L308.4 248.1L309.4 243.1L311.4 238.3L315.3 234.3L315.4 234.1L317.0 229.1L316.9 228.7L313.3 224.7L313.1 224.6L307.1 223.2L307.0 223.2L299.4 224.0L299.3 224.0L290.9 225.6L290.8 225.6L284.8 228.6L284.7 228.7L282.7 230.7L282.6 230.7L279.6 234.7L279.6 234.8L277.0 239.8L277.0 239.9L276.2 244.9L276.2 245.1L277.6 251.1L277.8 251.4zM265.1 501.7L265.0 502.1L266.2 506.1L266.4 506.4L270.4 508.4L270.8 508.4L271.0 508.2L273.0 503.2L272.9 502.7L269.3 498.3L269.0 498.2L268.7 498.3zM204.8 551.6L204.5 551.8L204.4 552.2L204.7 553.4L204.9 553.6L205.2 553.7L206.5 553.6L206.7 555.3L206.9 555.7L207.3 555.7L208.5 555.2L208.7 555.0L208.8 554.7L208.3 551.7L208.1 551.4L207.8 551.3zM138.2 529.6L133.3 526.7L130.4 522.7L127.4 517.8L127.3 517.6L122.3 513.6L122.2 513.6L117.2 510.6L117.2 510.6L113.2 508.6L113.0 508.6L111.0 508.6L110.7 508.7L110.6 509.0L112.6 556.0L112.6 556.1L114.6 562.1L114.7 562.3L117.7 565.3L117.9 565.4L124.8 567.8L130.6 570.3L130.6 572.0L130.7 572.3L131.0 572.4L193.0 570.4L193.3 570.3L193.4 570.0L193.3 569.7L185.3 561.7L182.4 557.7L182.3 557.7L181.1 556.5L182.5 555.1L182.6 554.7L182.5 554.4L179.5 551.9L179.2 551.8L176.0 551.8L173.3 549.6L173.3 549.6L171.9 548.6L170.5 545.1L170.2 544.8L166.2 544.3L165.8 544.4L165.7 544.8L165.8 545.5L163.2 544.6L155.2 541.6L148.3 536.7L144.3 532.7L144.2 532.6zM158.9 534.9L158.7 534.7L158.4 534.7L154.4 535.7L154.1 536.1L153.6 538.6L153.7 538.9L155.2 541.0L155.6 541.1L158.6 540.6L158.9 540.4L160.4 537.9L160.4 537.4z" fill="#c0c0c0" fill-rule="evenodd" stroke="#000" stroke-width="1.1" stroke-linejoin="round" shape-rendering="crispEdges"/>
<path d="M561.4 397.1L564.3 395.7L565.7 398.6L568.6 401.4L570.7 402.9L570.0 405.7L567.1 405.0L564.3 402.9L562.1 400.7zM467.4 363.1L469.4 362.4L471.9 363.1L472.4 365.1L470.9 367.1L469.4 368.6L467.9 368.1L467.2 365.6zM455.7 385.6L457.9 381.1L459.7 379.4L460.5 381.1L459.3 384.5L459.8 387.9L457.9 390.2L455.7 392.8zM480.7 375.0L482.9 375.0L482.9 377.1L480.7 377.1zM484.3 379.3L486.4 379.3L486.4 381.4L484.3 381.4zM480.0 382.1L482.1 382.1L482.1 384.3L480.0 384.3zM499.0 242.9L502.1 242.9L502.4 246.4L499.3 246.4zM488.1 240.0L490.0 240.0L490.3 242.9L488.3 242.9zM490.0 244.3L492.4 244.3L492.4 246.1L490.0 246.1zM498.0 209.0L501.6 208.0L502.0 211.0L499.0 212.4zM498.4 217.6L502.4 217.0L502.8 220.0L499.2 221.0zM493.0 187.0L495.6 187.0L496.0 190.0L493.6 190.0zM458.9 160.0L461.7 159.3L463.4 161.4L463.1 164.9L460.3 165.6L458.6 162.8zM468.0 481.0L472.0 479.0L476.0 479.6L475.0 483.0L470.0 484.0zM480.0 475.0L484.0 474.0L485.6 477.0L482.0 478.4zM485.0 468.0L490.0 467.0L492.0 469.6L488.0 471.0zM476.0 463.0L479.6 462.4L480.0 465.6L476.8 466.0zM492.0 464.0L497.0 463.0L498.0 466.0L493.6 467.0zM492.0 455.0L495.0 455.0L495.4 457.6L492.4 457.6zM440.4 451.0L443.6 451.0L443.6 453.6L440.4 453.6zM557.8 522.6L560.2 522.6L560.2 525.4L557.8 525.4zM557.8 530.0L560.2 530.0L560.2 535.4L557.8 535.4zM623.0 76.4L625.0 71.0L633.0 66.6L632.6 70.0L627.0 75.6zM618.6 80.0L621.0 80.0L621.4 83.0L619.0 83.2zM612.0 88.4L615.0 87.2L615.8 88.4L613.0 90.0zM597.4 111.0L599.0 105.0L604.0 102.0L609.0 99.6L609.4 102.0L605.0 107.0L601.0 112.0L598.6 113.6zM590.6 110.4L596.0 109.6L596.6 111.6L591.4 112.4zM581.4 107.6L585.0 107.2L586.6 109.6L583.0 109.6zM602.6 94.4L604.6 94.4L604.6 96.4L602.6 96.4zM555.0 136.0L558.0 135.0L560.6 139.0L558.0 140.0zM530.0 144.4L534.0 144.0L536.0 147.0L532.0 148.0zM537.0 143.0L540.6 141.6L541.4 144.4L538.0 146.0zM225.0 518.0L229.0 515.0L234.0 513.0L239.0 512.4L241.0 515.0L237.0 518.0L233.0 521.0L228.0 522.0zM241.0 421.2L243.4 420.8L243.6 422.6L241.4 422.8zM225.0 519.0L229.0 517.0L233.0 513.0L238.0 512.6L239.0 517.0L235.0 521.0L229.0 523.0L225.0 522.6zM262.6 489.4L266.0 489.0L266.6 491.4L263.4 492.0zM278.6 519.0L281.4 518.6L281.8 522.0L279.0 522.6zM282.0 526.0L285.0 526.0L285.0 528.6L282.0 528.6zM254.0 552.0L258.0 552.0L258.6 555.0L254.6 555.0zM276.6 556.0L279.4 556.0L279.4 558.6L276.6 558.6zM365.9 180.1L368.7 179.0L371.5 178.7L373.7 179.4L374.4 181.5L373.7 184.3L371.5 185.4L368.7 185.7L366.6 185.0L365.6 182.9zM351.2 181.3L353.0 180.6L353.7 183.1L354.7 184.8L357.2 185.9L357.5 187.6L355.4 188.7L352.6 188.3L351.6 186.6L351.9 183.8zM342.8 191.9L345.6 191.5L347.7 192.6L346.3 194.7L343.5 195.0L341.7 194.0zM411.5 161.9L413.7 160.5L415.8 159.5L416.8 159.8L415.8 161.9L413.7 163.3L411.9 164.0zM193.4 550.2L197.4 549.4L201.4 550.4L202.6 552.2L199.8 553.8L196.6 554.2L194.2 553.0zM204.2 551.1L208.2 551.5L210.6 553.5L210.8 556.3L208.6 557.5L206.2 556.3L204.6 554.3zM194.8 556.5L198.1 556.1L199.7 558.5L198.9 561.7L196.4 562.5L194.8 560.1zM200.9 564.8L204.1 563.1L206.6 565.2L205.8 568.8L202.5 569.4L200.5 567.6zM199.7 521.6L201.7 522.0L202.9 524.8L201.7 526.0L200.3 524.0zM495.1 48.9L499.1 47.4L500.6 49.4L500.1 52.9L498.1 53.9L496.1 52.4zM485.4 72.1L487.9 71.1L488.9 73.1L486.9 75.1L484.9 74.6zM462.2 102.4L465.2 101.9L466.8 104.4L466.2 107.9L464.2 109.9L462.2 108.4zM452.9 123.2L456.4 122.2L459.9 122.8L460.4 125.2L457.4 126.8L453.9 126.8zM434.6 142.8L438.1 141.3L441.1 141.8L441.6 144.3L438.6 145.8L435.1 145.8zM420.0 153.9L423.5 152.4L425.5 153.9L424.5 156.4L421.5 157.4zM402.8 40.2L405.8 39.8L406.2 40.8L403.2 41.2zM449.9 46.8L451.6 46.6L451.6 47.6L450.1 47.8zM407.6 55.4L408.6 55.4L408.6 56.2L407.6 56.2zM246.6 206.7L253.4 206.2L256.4 204.3L257.0 207.0L254.0 208.8L248.0 209.4zM420.1 509.1L424.2 508.4L428.4 509.8L429.1 513.3L425.6 515.4L421.4 514.0zM425.3 496.9L429.5 496.2L430.9 499.0L429.5 501.8L426.0 501.1zM430.9 532.5L433.9 531.8L434.8 534.6L432.0 535.7zM417.1 431.9L420.2 429.2L422.9 429.7L422.3 431.9L419.6 436.2L417.5 436.2zM456.6 385.5L460.4 385.5L461.9 386.9L460.4 387.9L457.6 387.4z" fill="#000" stroke="#000" stroke-width="1" shape-rendering="crispEdges"/>
<path d="M113.0 168.0L120.0 168.6L123.4 170.6L121.0 173.6L119.4 180.0L116.6 185.6L120.0 187.2L128.6 188.0L130.6 192.4L133.0 197.6L139.0 198.6L144.0 195.6L149.0 193.6L150.6 198.0L152.0 203.6L156.6 203.2L160.6 203.6L161.0 197.6L158.6 193.0L156.6 187.0L157.6 182.0L161.4 180.4L165.0 181.6L167.4 181.0L170.0 176.0L173.0 174.6L177.0 177.0L182.0 181.0L185.0 176.0L187.4 175.0L190.0 178.0L192.0 175.0L197.0 179.6L200.6 175.0L204.0 176.0L208.0 173.6L212.0 171.0L213.0 167.6L220.0 163.6L224.6 168.4L228.0 170.0L232.0 172.0L237.0 171.6L243.0 173.0L245.0 175.6L242.6 180.0L243.0 187.0L248.0 191.0L253.0 194.4L260.0 196.4L260.0 196.4L263.0 197.6L266.0 197.0M167.4 181.0L170.0 185.6L174.0 191.0L178.0 193.0L180.6 197.0L179.0 202.4L182.0 207.0L185.0 210.0L191.0 211.0L194.0 213.0L199.0 208.0L203.0 208.4L207.0 212.0L205.0 216.0L209.0 218.0L212.0 221.0L214.6 224.4L213.0 228.0L209.0 230.0L205.0 232.0L199.0 231.6L200.6 235.0L196.0 237.6L203.0 241.0L209.0 244.0L216.0 248.0L219.0 252.0L217.0 254.0L221.0 259.0L225.0 262.0L229.0 267.0L234.0 272.0L238.0 278.0L239.0 283.0M140.0 198.6L143.0 201.0L141.0 206.0L137.0 209.0L133.0 212.0L132.0 217.0L134.6 219.0L138.0 223.0L139.0 227.0L137.0 229.0L138.0 233.0L144.0 234.0L151.0 233.0L152.6 238.0L152.0 243.0L153.4 246.0L150.0 249.0L149.4 253.0L151.0 258.0L148.0 262.0L146.0 268.0L149.0 270.4L154.0 267.0L159.0 262.0L165.0 258.0L169.0 257.6L174.0 264.0L178.0 262.0L182.0 259.6L185.0 254.0L191.0 254.0L197.0 256.0L201.0 260.0L205.0 266.0L210.0 270.0L211.0 276.0L210.6 283.0M132.0 217.0L129.0 218.0L125.0 219.0L122.0 219.0L121.0 223.0L117.0 224.4L113.0 225.6M232.0 270.0L237.0 274.0L240.0 280.0L243.0 285.0L247.0 289.0L252.0 292.0L256.0 296.0L253.0 300.0L255.0 305.0L260.0 309.0L259.0 314.0L257.0 320.0L255.0 325.0L256.0 330.0L259.0 336.0L260.0 342.0L258.0 350.0L257.0 358.0L253.0 362.0L247.0 365.0L241.0 368.0L237.0 371.0L229.0 373.0L228.0 378.0L233.0 382.0L235.0 386.0L229.0 385.0L225.0 386.0M171.0 339.0L174.0 334.0L179.0 328.0L185.0 325.0L193.0 324.0L201.0 324.4L209.0 323.6L214.0 324.0L219.0 327.0L225.0 328.0L230.0 327.0L235.0 324.0L241.0 322.4L245.0 325.0L251.0 324.0L256.0 320.0L260.0 319.0M171.0 339.0L170.0 344.0L172.0 350.0L174.0 356.0L176.0 362.0L180.0 370.0L181.0 374.0M211.0 270.0L210.6 278.0L212.0 286.0L217.0 292.0L223.0 296.0L225.0 302.0L224.6 310.0L223.0 318.0L221.0 324.0L219.0 327.0M230.0 371.0L229.0 376.0L233.0 379.0L235.0 384.0L229.0 386.0L223.0 387.0L217.0 390.0L214.0 396.0M113.0 332.0L116.0 334.0L117.0 344.0L119.0 352.0L122.0 360.0L125.0 370.0L123.0 374.0L120.0 378.0L116.0 383.0L113.0 386.0M134.0 458.0L138.0 459.0L143.0 462.0L145.0 465.0L149.0 466.0L148.0 472.0L150.0 475.0L155.0 472.0L159.0 471.0L163.0 472.0L164.0 467.0L166.0 465.6M292.0 537.0L294.0 542.0L298.0 546.0L302.0 550.0L306.0 554.0L309.0 556.0L315.0 554.6L321.0 554.0L327.0 553.0L332.0 552.0L336.0 549.0L337.0 545.0L341.0 544.0L347.0 545.0L350.0 544.0L354.0 545.0L358.0 547.0L362.0 549.0L367.0 547.0L373.0 545.0L377.0 543.0L380.0 539.0M372.0 492.0L374.0 497.0L377.0 501.0L380.0 503.0M300.6 163.0L303.0 159.6L307.0 161.0L311.0 162.4L314.0 164.0L318.0 162.4L323.0 161.6M428.0 498.0L422.0 497.0L414.0 496.6L406.0 496.6L399.0 497.4L396.0 500.0L394.0 505.0L393.0 511.0L392.0 518.0L388.0 521.0L387.0 527.0L384.0 530.0L381.0 533.0L379.0 539.0" fill="none" stroke="#000" stroke-width="1" shape-rendering="crispEdges"/>
<path d="M0 0H775V665H0zM111 36V572H639V36z" fill="#fff" fill-rule="evenodd"/>
<path d="M130.5 38v5M130.5 570v-5M164.5 38v5M164.5 570v-5M198.5 38v5M198.5 570v-5M231.5 38v5M231.5 570v-5M265.5 38v5M265.5 570v-5M299.5 38v5M299.5 570v-5M333.5 38v5M333.5 570v-5M367.5 38v5M367.5 570v-5M400.5 38v5M400.5 570v-5M434.5 38v5M434.5 570v-5M468.5 38v5M468.5 570v-5M502.5 38v5M502.5 570v-5M536.5 38v5M536.5 570v-5M569.5 38v5M569.5 570v-5M603.5 38v5M603.5 570v-5M637.5 38v5M637.5 570v-5M112 570.5h6M638 570.5h-6M112 536.5h6M638 536.5h-6M112 502.5h6M638 502.5h-6M112 468.5h6M638 468.5h-6M112 434.5h6M638 434.5h-6M112 400.5h6M638 400.5h-6M112 366.5h6M638 366.5h-6M112 331.5h6M638 331.5h-6M112 296.5h6M638 296.5h-6M112 261.5h6M638 261.5h-6M112 225.5h6M638 225.5h-6M112 189.5h6M638 189.5h-6M112 152.5h6M638 152.5h-6M112 115.5h6M638 115.5h-6M112 77.5h6M638 77.5h-6M112 38.5h6M638 38.5h-6" stroke="#000" stroke-width="1" fill="none" shape-rendering="crispEdges"/>
<rect x="112" y="37" width="526" height="534" fill="none" stroke="#000" stroke-width="2" shape-rendering="crispEdges"/>
<text x="248.6" y="19.8" font-size="13" fill="#000050" stroke="#000050" stroke-width="0.2" textLength="254.2" lengthAdjust="spacingAndGlyphs">Significant Wave Height with Wave Direction</text>
<text x="283" y="32" font-size="12" font-style="italic" fill="#000050" stroke="#000050" stroke-width="0.2" textLength="185.6" lengthAdjust="spacingAndGlyphs">Valid For Feb-28-2008 06:00 GMT</text>
<text x="133.8" y="588" font-size="11" font-style="italic" text-anchor="middle" fill="#000">100 E</text>
<text x="218.2" y="588" font-size="11" font-style="italic" text-anchor="middle" fill="#000">105 E</text>
<text x="302.8" y="588" font-size="11" font-style="italic" text-anchor="middle" fill="#000">110 E</text>
<text x="387.2" y="588" font-size="11" font-style="italic" text-anchor="middle" fill="#000">115 E</text>
<text x="471.8" y="588" font-size="11" font-style="italic" text-anchor="middle" fill="#000">120 E</text>
<text x="556.2" y="588" font-size="11" font-style="italic" text-anchor="middle" fill="#000">125 E</text>
<text x="640.7" y="588" font-size="11" font-style="italic" text-anchor="middle" fill="#000">130 E</text>
<text x="645.8" y="573.8" font-size="11" font-style="italic" fill="#000">0</text>
<text x="645.8" y="489.1" font-size="11" font-style="italic" fill="#000">5 N</text>
<text x="645.8" y="403.9" font-size="11" font-style="italic" fill="#000">10 N</text>
<text x="645.8" y="317.3" font-size="11" font-style="italic" fill="#000">15 N</text>
<text x="645.8" y="228.7" font-size="11" font-style="italic" fill="#000">20 N</text>
<text x="645.8" y="137.2" font-size="11" font-style="italic" fill="#000">25 N</text>
<text x="645.8" y="41.9" font-size="11" font-style="italic" fill="#000">30 N</text>
<text x="112.8" y="602" font-size="13" fill="#000050" stroke="#fff" stroke-width="0.2" textLength="127.7" lengthAdjust="spacingAndGlyphs">oceanweather inc.</text>
<text x="520.6" y="598.9" font-size="8.5" font-style="italic" fill="#000050" stroke="#000050" stroke-width="0.25" textLength="116.7" lengthAdjust="spacingAndGlyphs">Plotted at Feb 27, 2008 22:22 GMT</text>
<text x="375" y="614.1" font-size="9.5" text-anchor="middle" fill="#000050" stroke="#000050" stroke-width="0.3">Significant Wave Height (Meters)</text>
<text x="375.5" y="662" font-size="9.5" text-anchor="middle" fill="#000050" stroke="#000050" stroke-width="0.3">Significant Wave Height (Feet)</text>
<g shape-rendering="crispEdges"><rect x="256.00" y="629" width="6.30" height="13" fill="#0002ff"/><rect x="262.00" y="629" width="6.30" height="13" fill="#000cff"/><rect x="268.00" y="629" width="6.30" height="13" fill="#001cff"/><rect x="274.00" y="629" width="6.30" height="13" fill="#0030ff"/><rect x="280.00" y="629" width="6.30" height="13" fill="#0047ff"/><rect x="286.00" y="629" width="6.30" height="13" fill="#0062ff"/><rect x="292.00" y="629" width="6.30" height="13" fill="#0080ff"/><rect x="298.00" y="629" width="6.30" height="13" fill="#00a1ff"/><rect x="304.00" y="629" width="6.30" height="13" fill="#00c5ff"/><rect x="310.00" y="629" width="6.30" height="13" fill="#00ebff"/><rect x="316.00" y="629" width="6.30" height="13" fill="#00fff2"/><rect x="322.00" y="629" width="6.30" height="13" fill="#00ffd9"/><rect x="328.00" y="629" width="6.30" height="13" fill="#00ffbf"/><rect x="334.00" y="629" width="6.30" height="13" fill="#00ffa6"/><rect x="340.00" y="629" width="6.30" height="13" fill="#00ff8c"/><rect x="346.00" y="629" width="6.30" height="13" fill="#00ff73"/><rect x="352.00" y="629" width="6.30" height="13" fill="#00ff59"/><rect x="358.00" y="629" width="6.30" height="13" fill="#00ff40"/><rect x="364.00" y="629" width="6.30" height="13" fill="#00ff26"/><rect x="370.00" y="629" width="6.30" height="13" fill="#00ff0d"/><rect x="376.00" y="629" width="6.30" height="13" fill="#0dff00"/><rect x="382.00" y="629" width="6.30" height="13" fill="#26ff00"/><rect x="388.00" y="629" width="6.30" height="13" fill="#40ff00"/><rect x="394.00" y="629" width="6.30" height="13" fill="#59ff00"/><rect x="400.00" y="629" width="6.30" height="13" fill="#73ff00"/><rect x="406.00" y="629" width="6.30" height="13" fill="#8cff00"/><rect x="412.00" y="629" width="6.30" height="13" fill="#a6ff00"/><rect x="418.00" y="629" width="6.30" height="13" fill="#bfff00"/><rect x="424.00" y="629" width="6.30" height="13" fill="#d9ff00"/><rect x="430.00" y="629" width="6.30" height="13" fill="#f2ff00"/><rect x="436.00" y="629" width="6.30" height="13" fill="#fff200"/><rect x="442.00" y="629" width="6.30" height="13" fill="#ffd900"/><rect x="448.00" y="629" width="6.30" height="13" fill="#ffbf00"/><rect x="454.00" y="629" width="6.30" height="13" fill="#ffa600"/><rect x="460.00" y="629" width="6.30" height="13" fill="#ff8c00"/><rect x="466.00" y="629" width="6.30" height="13" fill="#ff7300"/><rect x="472.00" y="629" width="6.30" height="13" fill="#ff5900"/><rect x="478.00" y="629" width="6.30" height="13" fill="#ff4000"/><rect x="484.00" y="629" width="6.30" height="13" fill="#ff2600"/><rect x="490.00" y="629" width="6.30" height="13" fill="#ff0d00"/><rect x="255" y="629" width="2" height="13" fill="#000"/></g>
<text x="256.2" y="625.9" font-size="9.5" text-anchor="middle" fill="#000050" stroke="#000050" stroke-width="0.3">0</text><text x="276.2" y="625.9" font-size="9.5" text-anchor="middle" fill="#000050" stroke="#000050" stroke-width="0.3">1</text><text x="296.2" y="625.9" font-size="9.5" text-anchor="middle" fill="#000050" stroke="#000050" stroke-width="0.3">2</text><text x="316.2" y="625.9" font-size="9.5" text-anchor="middle" fill="#000050" stroke="#000050" stroke-width="0.3">3</text><text x="336.2" y="625.9" font-size="9.5" text-anchor="middle" fill="#000050" stroke="#000050" stroke-width="0.3">4</text><text x="356.2" y="625.9" font-size="9.5" text-anchor="middle" fill="#000050" stroke="#000050" stroke-width="0.3">5</text><text x="376.2" y="625.9" font-size="9.5" text-anchor="middle" fill="#000050" stroke="#000050" stroke-width="0.3">6</text><text x="396.2" y="625.9" font-size="9.5" text-anchor="middle" fill="#000050" stroke="#000050" stroke-width="0.3">7</text><text x="416.2" y="625.9" font-size="9.5" text-anchor="middle" fill="#000050" stroke="#000050" stroke-width="0.3">8</text><text x="436.2" y="625.9" font-size="9.5" text-anchor="middle" fill="#000050" stroke="#000050" stroke-width="0.3">9</text><text x="456.2" y="625.9" font-size="9.5" text-anchor="middle" fill="#000050" stroke="#000050" stroke-width="0.3">10</text><text x="476.2" y="625.9" font-size="9.5" text-anchor="middle" fill="#000050" stroke="#000050" stroke-width="0.3">11</text><text x="496.2" y="625.9" font-size="9.5" text-anchor="middle" fill="#000050" stroke="#000050" stroke-width="0.3">12</text>
<text x="256.2" y="650.2" font-size="9.5" text-anchor="middle" fill="#000050" stroke="#000050" stroke-width="0.3">0</text><text x="286.2" y="650.2" font-size="9.5" text-anchor="middle" fill="#000050" stroke="#000050" stroke-width="0.3">5</text><text x="316.2" y="650.2" font-size="9.5" text-anchor="middle" fill="#000050" stroke="#000050" stroke-width="0.3">10</text><text x="346.2" y="650.2" font-size="9.5" text-anchor="middle" fill="#000050" stroke="#000050" stroke-width="0.3">15</text><text x="376.2" y="650.2" font-size="9.5" text-anchor="middle" fill="#000050" stroke="#000050" stroke-width="0.3">20</text><text x="406.2" y="650.2" font-size="9.5" text-anchor="middle" fill="#000050" stroke="#000050" stroke-width="0.3">25</text><text x="436.2" y="650.2" font-size="9.5" text-anchor="middle" fill="#000050" stroke="#000050" stroke-width="0.3">30</text><text x="466.2" y="650.2" font-size="9.5" text-anchor="middle" fill="#000050" stroke="#000050" stroke-width="0.3">35</text><text x="496.2" y="650.2" font-size="9.5" text-anchor="middle" fill="#000050" stroke="#000050" stroke-width="0.3">40</text>
</svg>
</body></html>
